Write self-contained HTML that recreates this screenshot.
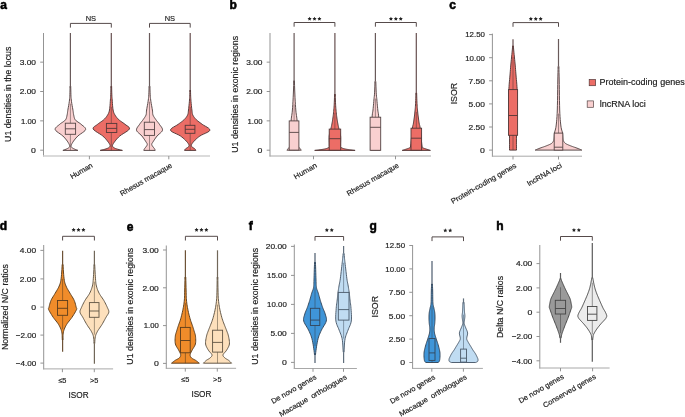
<!DOCTYPE html><html><head><meta charset="utf-8"><style>html,body{margin:0;padding:0;background:#fff;width:685px;height:417px;overflow:hidden}svg{display:block;will-change:transform}text{font-family:"Liberation Sans", sans-serif;stroke:#222;stroke-width:0.18px}</style></head><body>
<svg width="685" height="417" viewBox="0 0 685 417">
<rect width="685" height="417" fill="#fff"/>
<text x="0.3" y="9.1" font-size="12" font-weight="bold" fill="#000" style="stroke:#000;stroke-width:0.55px">a</text>
<line x1="43.5" y1="33" x2="43.5" y2="156.5" stroke="#8e8e8e" stroke-width="0.95"/>
<line x1="43.05" y1="156" x2="210" y2="156" stroke="#cfcfcf" stroke-width="1.4"/>
<line x1="40.2" y1="150.2" x2="43.5" y2="150.2" stroke="#8e8e8e" stroke-width="0.95"/>
<text x="36.00" y="153.00" text-anchor="end" font-size="7.8" fill="#222222" textLength="4.87" lengthAdjust="spacingAndGlyphs">0</text>
<line x1="40.2" y1="120.85" x2="43.5" y2="120.85" stroke="#8e8e8e" stroke-width="0.95"/>
<text x="36.00" y="123.65" text-anchor="end" font-size="7.8" fill="#222222" textLength="15.04" lengthAdjust="spacingAndGlyphs">1.00</text>
<line x1="40.2" y1="91.5" x2="43.5" y2="91.5" stroke="#8e8e8e" stroke-width="0.95"/>
<text x="36.00" y="94.30" text-anchor="end" font-size="7.8" fill="#222222" textLength="16.34" lengthAdjust="spacingAndGlyphs">2.00</text>
<line x1="40.2" y1="62.15" x2="43.5" y2="62.15" stroke="#8e8e8e" stroke-width="0.95"/>
<text x="36.00" y="64.95" text-anchor="end" font-size="7.8" fill="#222222" textLength="16.34" lengthAdjust="spacingAndGlyphs">3.00</text>
<line x1="89.4" y1="156" x2="89.4" y2="159.3" stroke="#8e8e8e" stroke-width="0.95"/>
<line x1="168.8" y1="156" x2="168.8" y2="159.3" stroke="#8e8e8e" stroke-width="0.95"/>
<text transform="translate(11.4,94.3) rotate(-90)" text-anchor="middle" font-size="8.8" fill="#222222">U1 densities in the locus</text>
<line x1="70.40" y1="33.00" x2="70.40" y2="88.12" stroke="#695a5a" stroke-width="1.2"/>
<path d="M70.71,86.12 L70.80,90.00 L70.87,92.82 L70.92,94.80 L70.98,96.23 L71.04,97.38 L71.15,98.54 L71.30,100.00 L71.53,101.78 L71.81,103.65 L72.14,105.54 L72.46,107.35 L72.76,109.00 L73.00,110.40 L73.16,111.50 L73.27,112.35 L73.35,113.04 L73.43,113.65 L73.54,114.28 L73.70,115.00 L73.88,115.82 L74.04,116.66 L74.24,117.52 L74.50,118.37 L74.87,119.20 L75.40,120.00 L76.13,120.75 L77.05,121.45 L78.08,122.13 L79.14,122.82 L80.17,123.53 L81.10,124.30 L82.06,125.11 L83.14,125.95 L84.19,126.82 L85.05,127.71 L85.57,128.64 L85.60,129.60 L84.99,130.61 L83.83,131.67 L82.34,132.76 L80.71,133.86 L79.16,134.95 L77.90,136.00 L76.89,137.03 L75.95,138.06 L75.09,139.07 L74.31,140.06 L73.61,141.01 L73.00,141.90 L72.46,142.75 L71.99,143.56 L71.61,144.33 L71.32,145.05 L71.14,145.71 L71.10,146.30 L71.20,146.80 L71.44,147.21 L71.79,147.56 L72.24,147.87 L72.75,148.18 L73.30,148.50 L73.98,148.86 L74.83,149.23 L75.74,149.59 L76.62,149.92 L77.37,150.20 L77.90,150.40 L62.90,150.40 L63.43,150.20 L64.18,149.92 L65.06,149.59 L65.97,149.23 L66.82,148.86 L67.50,148.50 L68.05,148.18 L68.56,147.87 L69.01,147.56 L69.36,147.21 L69.60,146.80 L69.70,146.30 L69.66,145.71 L69.48,145.05 L69.19,144.33 L68.81,143.56 L68.34,142.75 L67.80,141.90 L67.19,141.01 L66.49,140.06 L65.71,139.07 L64.85,138.06 L63.91,137.03 L62.90,136.00 L61.64,134.95 L60.09,133.86 L58.46,132.76 L56.97,131.67 L55.81,130.61 L55.20,129.60 L55.23,128.64 L55.75,127.71 L56.61,126.82 L57.66,125.95 L58.74,125.11 L59.70,124.30 L60.63,123.53 L61.66,122.82 L62.73,122.13 L63.75,121.45 L64.67,120.75 L65.40,120.00 L65.93,119.20 L66.30,118.37 L66.56,117.52 L66.76,116.66 L66.92,115.82 L67.10,115.00 L67.26,114.28 L67.37,113.65 L67.45,113.04 L67.53,112.35 L67.64,111.50 L67.80,110.40 L68.04,109.00 L68.34,107.35 L68.66,105.54 L68.99,103.65 L69.27,101.78 L69.50,100.00 L69.65,98.54 L69.76,97.38 L69.83,96.23 L69.88,94.80 L69.93,92.82 L70.00,90.00 L70.09,86.12Z" fill="#f9d0d0" stroke="none"/>
<path d="M70.71,86.12 L70.80,90.00 L70.87,92.82 L70.92,94.80 L70.98,96.23 L71.04,97.38 L71.15,98.54 L71.30,100.00 L71.53,101.78 L71.81,103.65 L72.14,105.54 L72.46,107.35 L72.76,109.00 L73.00,110.40 L73.16,111.50 L73.27,112.35 L73.35,113.04 L73.43,113.65 L73.54,114.28 L73.70,115.00 L73.88,115.82 L74.04,116.66 L74.24,117.52 L74.50,118.37 L74.87,119.20 L75.40,120.00 L76.13,120.75 L77.05,121.45 L78.08,122.13 L79.14,122.82 L80.17,123.53 L81.10,124.30 L82.06,125.11 L83.14,125.95 L84.19,126.82 L85.05,127.71 L85.57,128.64 L85.60,129.60 L84.99,130.61 L83.83,131.67 L82.34,132.76 L80.71,133.86 L79.16,134.95 L77.90,136.00 L76.89,137.03 L75.95,138.06 L75.09,139.07 L74.31,140.06 L73.61,141.01 L73.00,141.90 L72.46,142.75 L71.99,143.56 L71.61,144.33 L71.32,145.05 L71.14,145.71 L71.10,146.30 L71.20,146.80 L71.44,147.21 L71.79,147.56 L72.24,147.87 L72.75,148.18 L73.30,148.50 L73.98,148.86 L74.83,149.23 L75.74,149.59 L76.62,149.92 L77.37,150.20 L77.90,150.40 L62.90,150.40 L63.43,150.20 L64.18,149.92 L65.06,149.59 L65.97,149.23 L66.82,148.86 L67.50,148.50 L68.05,148.18 L68.56,147.87 L69.01,147.56 L69.36,147.21 L69.60,146.80 L69.70,146.30 L69.66,145.71 L69.48,145.05 L69.19,144.33 L68.81,143.56 L68.34,142.75 L67.80,141.90 L67.19,141.01 L66.49,140.06 L65.71,139.07 L64.85,138.06 L63.91,137.03 L62.90,136.00 L61.64,134.95 L60.09,133.86 L58.46,132.76 L56.97,131.67 L55.81,130.61 L55.20,129.60 L55.23,128.64 L55.75,127.71 L56.61,126.82 L57.66,125.95 L58.74,125.11 L59.70,124.30 L60.63,123.53 L61.66,122.82 L62.73,122.13 L63.75,121.45 L64.67,120.75 L65.40,120.00 L65.93,119.20 L66.30,118.37 L66.56,117.52 L66.76,116.66 L66.92,115.82 L67.10,115.00 L67.26,114.28 L67.37,113.65 L67.45,113.04 L67.53,112.35 L67.64,111.50 L67.80,110.40 L68.04,109.00 L68.34,107.35 L68.66,105.54 L68.99,103.65 L69.27,101.78 L69.50,100.00 L69.65,98.54 L69.76,97.38 L69.83,96.23 L69.88,94.80 L69.93,92.82 L70.00,90.00 L70.09,86.12" fill="none" stroke="#544444" stroke-width="0.95" stroke-linejoin="round" stroke-linecap="butt"/>
<line x1="70.40" y1="103.65" x2="70.40" y2="150.40" stroke="#544444" stroke-width="0.55"/>
<rect x="65.30" y="123.20" width="10.30" height="11.10" fill="#f9d0d0" stroke="#544444" stroke-width="0.9"/>
<line x1="65.30" y1="128.80" x2="75.60" y2="128.80" stroke="#544444" stroke-width="0.9"/>
<line x1="111.30" y1="33.00" x2="111.30" y2="88.12" stroke="#675050" stroke-width="1.2"/>
<path d="M111.61,86.12 L111.70,90.00 L111.78,92.82 L111.85,94.81 L111.92,96.25 L112.00,97.41 L112.09,98.56 L112.20,100.00 L112.32,101.72 L112.43,103.52 L112.56,105.31 L112.71,107.04 L112.89,108.62 L113.10,110.00 L113.34,111.13 L113.59,112.05 L113.87,112.83 L114.19,113.54 L114.56,114.24 L115.00,115.00 L115.50,115.80 L116.04,116.59 L116.63,117.38 L117.29,118.15 L118.01,118.93 L118.80,119.70 L119.72,120.47 L120.76,121.24 L121.86,122.00 L122.98,122.76 L124.04,123.53 L125.00,124.30 L126.00,125.05 L127.12,125.77 L128.19,126.50 L129.04,127.26 L129.50,128.08 L129.40,129.00 L128.56,130.05 L127.08,131.20 L125.21,132.43 L123.20,133.66 L121.31,134.87 L119.80,136.00 L118.63,137.07 L117.59,138.11 L116.67,139.13 L115.86,140.11 L115.14,141.03 L114.50,141.90 L113.92,142.71 L113.40,143.46 L112.98,144.16 L112.67,144.82 L112.51,145.43 L112.50,146.00 L112.67,146.52 L112.99,146.97 L113.44,147.39 L114.03,147.77 L114.72,148.14 L115.50,148.50 L116.50,148.87 L117.77,149.25 L119.14,149.61 L120.47,149.93 L121.60,150.20 L122.40,150.40 L100.20,150.40 L101.00,150.20 L102.13,149.93 L103.46,149.61 L104.83,149.25 L106.10,148.87 L107.10,148.50 L107.88,148.14 L108.57,147.77 L109.16,147.39 L109.61,146.97 L109.93,146.52 L110.10,146.00 L110.09,145.43 L109.93,144.82 L109.62,144.16 L109.20,143.46 L108.68,142.71 L108.10,141.90 L107.46,141.03 L106.74,140.11 L105.92,139.13 L105.01,138.11 L103.97,137.07 L102.80,136.00 L101.29,134.87 L99.40,133.66 L97.39,132.43 L95.52,131.20 L94.04,130.05 L93.20,129.00 L93.10,128.08 L93.56,127.26 L94.41,126.50 L95.48,125.77 L96.60,125.05 L97.60,124.30 L98.56,123.53 L99.62,122.76 L100.74,122.00 L101.84,121.24 L102.88,120.47 L103.80,119.70 L104.59,118.93 L105.31,118.15 L105.97,117.38 L106.56,116.59 L107.10,115.80 L107.60,115.00 L108.04,114.24 L108.41,113.54 L108.73,112.83 L109.01,112.05 L109.26,111.13 L109.50,110.00 L109.71,108.62 L109.89,107.04 L110.04,105.31 L110.17,103.52 L110.28,101.72 L110.40,100.00 L110.51,98.56 L110.60,97.41 L110.67,96.25 L110.75,94.81 L110.82,92.82 L110.90,90.00 L110.99,86.12Z" fill="#ec6d66" stroke="none"/>
<path d="M111.61,86.12 L111.70,90.00 L111.78,92.82 L111.85,94.81 L111.92,96.25 L112.00,97.41 L112.09,98.56 L112.20,100.00 L112.32,101.72 L112.43,103.52 L112.56,105.31 L112.71,107.04 L112.89,108.62 L113.10,110.00 L113.34,111.13 L113.59,112.05 L113.87,112.83 L114.19,113.54 L114.56,114.24 L115.00,115.00 L115.50,115.80 L116.04,116.59 L116.63,117.38 L117.29,118.15 L118.01,118.93 L118.80,119.70 L119.72,120.47 L120.76,121.24 L121.86,122.00 L122.98,122.76 L124.04,123.53 L125.00,124.30 L126.00,125.05 L127.12,125.77 L128.19,126.50 L129.04,127.26 L129.50,128.08 L129.40,129.00 L128.56,130.05 L127.08,131.20 L125.21,132.43 L123.20,133.66 L121.31,134.87 L119.80,136.00 L118.63,137.07 L117.59,138.11 L116.67,139.13 L115.86,140.11 L115.14,141.03 L114.50,141.90 L113.92,142.71 L113.40,143.46 L112.98,144.16 L112.67,144.82 L112.51,145.43 L112.50,146.00 L112.67,146.52 L112.99,146.97 L113.44,147.39 L114.03,147.77 L114.72,148.14 L115.50,148.50 L116.50,148.87 L117.77,149.25 L119.14,149.61 L120.47,149.93 L121.60,150.20 L122.40,150.40 L100.20,150.40 L101.00,150.20 L102.13,149.93 L103.46,149.61 L104.83,149.25 L106.10,148.87 L107.10,148.50 L107.88,148.14 L108.57,147.77 L109.16,147.39 L109.61,146.97 L109.93,146.52 L110.10,146.00 L110.09,145.43 L109.93,144.82 L109.62,144.16 L109.20,143.46 L108.68,142.71 L108.10,141.90 L107.46,141.03 L106.74,140.11 L105.92,139.13 L105.01,138.11 L103.97,137.07 L102.80,136.00 L101.29,134.87 L99.40,133.66 L97.39,132.43 L95.52,131.20 L94.04,130.05 L93.20,129.00 L93.10,128.08 L93.56,127.26 L94.41,126.50 L95.48,125.77 L96.60,125.05 L97.60,124.30 L98.56,123.53 L99.62,122.76 L100.74,122.00 L101.84,121.24 L102.88,120.47 L103.80,119.70 L104.59,118.93 L105.31,118.15 L105.97,117.38 L106.56,116.59 L107.10,115.80 L107.60,115.00 L108.04,114.24 L108.41,113.54 L108.73,112.83 L109.01,112.05 L109.26,111.13 L109.50,110.00 L109.71,108.62 L109.89,107.04 L110.04,105.31 L110.17,103.52 L110.28,101.72 L110.40,100.00 L110.51,98.56 L110.60,97.41 L110.67,96.25 L110.75,94.81 L110.82,92.82 L110.90,90.00 L110.99,86.12" fill="none" stroke="#523838" stroke-width="0.95" stroke-linejoin="round" stroke-linecap="butt"/>
<line x1="111.30" y1="107.04" x2="111.30" y2="150.40" stroke="#523838" stroke-width="0.55"/>
<rect x="106.40" y="123.40" width="10.40" height="9.10" fill="#ec6d66" stroke="#523838" stroke-width="0.9"/>
<line x1="106.40" y1="128.40" x2="116.80" y2="128.40" stroke="#523838" stroke-width="0.9"/>
<line x1="149.50" y1="33.00" x2="149.50" y2="88.12" stroke="#695a5a" stroke-width="1.2"/>
<path d="M149.89,86.12 L150.00,90.00 L150.10,92.82 L150.19,94.81 L150.28,96.25 L150.39,97.41 L150.52,98.56 L150.70,100.00 L150.94,101.72 L151.23,103.52 L151.56,105.31 L151.88,107.04 L152.17,108.62 L152.40,110.00 L152.54,111.13 L152.60,112.05 L152.62,112.83 L152.67,113.54 L152.78,114.24 L153.00,115.00 L153.34,115.80 L153.77,116.59 L154.27,117.38 L154.80,118.15 L155.36,118.93 L155.90,119.70 L156.45,120.46 L157.04,121.19 L157.64,121.93 L158.24,122.67 L158.83,123.46 L159.40,124.30 L160.04,125.21 L160.78,126.17 L161.51,127.17 L162.11,128.19 L162.48,129.21 L162.50,130.20 L162.08,131.17 L161.28,132.14 L160.25,133.10 L159.12,134.06 L158.02,135.03 L157.10,136.00 L156.31,137.01 L155.53,138.07 L154.79,139.13 L154.10,140.15 L153.50,141.09 L153.00,141.90 L152.59,142.54 L152.24,143.04 L151.97,143.46 L151.80,143.86 L151.73,144.28 L151.80,144.80 L152.06,145.44 L152.52,146.17 L153.09,146.94 L153.68,147.68 L154.21,148.35 L154.60,148.90 L154.83,149.32 L154.99,149.65 L155.07,149.91 L155.13,150.11 L155.16,150.27 L155.20,150.40 L143.80,150.40 L143.84,150.27 L143.87,150.11 L143.93,149.91 L144.01,149.65 L144.17,149.32 L144.40,148.90 L144.79,148.35 L145.32,147.68 L145.91,146.94 L146.48,146.17 L146.94,145.44 L147.20,144.80 L147.27,144.28 L147.20,143.86 L147.03,143.46 L146.76,143.04 L146.41,142.54 L146.00,141.90 L145.50,141.09 L144.90,140.15 L144.21,139.13 L143.47,138.07 L142.69,137.01 L141.90,136.00 L140.98,135.03 L139.88,134.06 L138.75,133.10 L137.72,132.14 L136.92,131.17 L136.50,130.20 L136.52,129.21 L136.89,128.19 L137.49,127.17 L138.22,126.17 L138.96,125.21 L139.60,124.30 L140.17,123.46 L140.76,122.67 L141.36,121.93 L141.96,121.19 L142.55,120.46 L143.10,119.70 L143.64,118.93 L144.20,118.15 L144.73,117.38 L145.23,116.59 L145.66,115.80 L146.00,115.00 L146.22,114.24 L146.33,113.54 L146.38,112.83 L146.40,112.05 L146.46,111.13 L146.60,110.00 L146.83,108.62 L147.12,107.04 L147.44,105.31 L147.77,103.52 L148.06,101.72 L148.30,100.00 L148.48,98.56 L148.61,97.41 L148.72,96.25 L148.81,94.81 L148.90,92.82 L149.00,90.00 L149.11,86.12Z" fill="#f9d0d0" stroke="none"/>
<path d="M149.89,86.12 L150.00,90.00 L150.10,92.82 L150.19,94.81 L150.28,96.25 L150.39,97.41 L150.52,98.56 L150.70,100.00 L150.94,101.72 L151.23,103.52 L151.56,105.31 L151.88,107.04 L152.17,108.62 L152.40,110.00 L152.54,111.13 L152.60,112.05 L152.62,112.83 L152.67,113.54 L152.78,114.24 L153.00,115.00 L153.34,115.80 L153.77,116.59 L154.27,117.38 L154.80,118.15 L155.36,118.93 L155.90,119.70 L156.45,120.46 L157.04,121.19 L157.64,121.93 L158.24,122.67 L158.83,123.46 L159.40,124.30 L160.04,125.21 L160.78,126.17 L161.51,127.17 L162.11,128.19 L162.48,129.21 L162.50,130.20 L162.08,131.17 L161.28,132.14 L160.25,133.10 L159.12,134.06 L158.02,135.03 L157.10,136.00 L156.31,137.01 L155.53,138.07 L154.79,139.13 L154.10,140.15 L153.50,141.09 L153.00,141.90 L152.59,142.54 L152.24,143.04 L151.97,143.46 L151.80,143.86 L151.73,144.28 L151.80,144.80 L152.06,145.44 L152.52,146.17 L153.09,146.94 L153.68,147.68 L154.21,148.35 L154.60,148.90 L154.83,149.32 L154.99,149.65 L155.07,149.91 L155.13,150.11 L155.16,150.27 L155.20,150.40 L143.80,150.40 L143.84,150.27 L143.87,150.11 L143.93,149.91 L144.01,149.65 L144.17,149.32 L144.40,148.90 L144.79,148.35 L145.32,147.68 L145.91,146.94 L146.48,146.17 L146.94,145.44 L147.20,144.80 L147.27,144.28 L147.20,143.86 L147.03,143.46 L146.76,143.04 L146.41,142.54 L146.00,141.90 L145.50,141.09 L144.90,140.15 L144.21,139.13 L143.47,138.07 L142.69,137.01 L141.90,136.00 L140.98,135.03 L139.88,134.06 L138.75,133.10 L137.72,132.14 L136.92,131.17 L136.50,130.20 L136.52,129.21 L136.89,128.19 L137.49,127.17 L138.22,126.17 L138.96,125.21 L139.60,124.30 L140.17,123.46 L140.76,122.67 L141.36,121.93 L141.96,121.19 L142.55,120.46 L143.10,119.70 L143.64,118.93 L144.20,118.15 L144.73,117.38 L145.23,116.59 L145.66,115.80 L146.00,115.00 L146.22,114.24 L146.33,113.54 L146.38,112.83 L146.40,112.05 L146.46,111.13 L146.60,110.00 L146.83,108.62 L147.12,107.04 L147.44,105.31 L147.77,103.52 L148.06,101.72 L148.30,100.00 L148.48,98.56 L148.61,97.41 L148.72,96.25 L148.81,94.81 L148.90,92.82 L149.00,90.00 L149.11,86.12" fill="none" stroke="#544444" stroke-width="0.95" stroke-linejoin="round" stroke-linecap="butt"/>
<line x1="149.50" y1="101.72" x2="149.50" y2="150.40" stroke="#544444" stroke-width="0.55"/>
<rect x="144.30" y="122.20" width="10.20" height="13.20" fill="#f9d0d0" stroke="#544444" stroke-width="0.9"/>
<line x1="144.30" y1="129.60" x2="154.50" y2="129.60" stroke="#544444" stroke-width="0.9"/>
<line x1="190.20" y1="33.00" x2="190.20" y2="92.00" stroke="#675050" stroke-width="1.2"/>
<path d="M190.50,90.00 L190.56,92.82 L190.61,94.81 L190.66,96.25 L190.72,97.41 L190.80,98.56 L190.90,100.00 L191.03,101.72 L191.19,103.52 L191.37,105.31 L191.55,107.04 L191.73,108.62 L191.90,110.00 L192.03,111.13 L192.11,112.05 L192.19,112.83 L192.31,113.54 L192.50,114.24 L192.80,115.00 L193.21,115.80 L193.69,116.59 L194.24,117.38 L194.86,118.15 L195.55,118.93 L196.30,119.70 L197.12,120.46 L198.02,121.19 L198.99,121.93 L200.01,122.67 L201.08,123.46 L202.20,124.30 L203.58,125.21 L205.29,126.17 L207.04,127.17 L208.58,128.19 L209.62,129.21 L209.90,130.20 L209.22,131.17 L207.75,132.14 L205.79,133.10 L203.63,134.06 L201.57,135.03 L199.90,136.00 L198.56,137.00 L197.31,138.03 L196.15,139.06 L195.10,140.06 L194.18,141.02 L193.40,141.90 L192.74,142.70 L192.20,143.44 L191.77,144.14 L191.49,144.79 L191.36,145.41 L191.40,146.00 L191.69,146.57 L192.25,147.11 L192.96,147.61 L193.71,148.08 L194.40,148.51 L194.90,148.90 L195.22,149.25 L195.46,149.56 L195.62,149.83 L195.73,150.06 L195.82,150.25 L195.90,150.40 L184.50,150.40 L184.58,150.25 L184.67,150.06 L184.78,149.83 L184.94,149.56 L185.18,149.25 L185.50,148.90 L186.00,148.51 L186.69,148.08 L187.44,147.61 L188.15,147.11 L188.71,146.57 L189.00,146.00 L189.04,145.41 L188.91,144.79 L188.62,144.14 L188.20,143.44 L187.66,142.70 L187.00,141.90 L186.22,141.02 L185.30,140.06 L184.25,139.06 L183.09,138.03 L181.84,137.00 L180.50,136.00 L178.83,135.03 L176.77,134.06 L174.61,133.10 L172.65,132.14 L171.18,131.17 L170.50,130.20 L170.78,129.21 L171.82,128.19 L173.36,127.17 L175.11,126.17 L176.82,125.21 L178.20,124.30 L179.32,123.46 L180.39,122.67 L181.41,121.93 L182.38,121.19 L183.28,120.46 L184.10,119.70 L184.85,118.93 L185.54,118.15 L186.16,117.38 L186.71,116.59 L187.19,115.80 L187.60,115.00 L187.90,114.24 L188.09,113.54 L188.21,112.83 L188.29,112.05 L188.37,111.13 L188.50,110.00 L188.67,108.62 L188.85,107.04 L189.03,105.31 L189.21,103.52 L189.37,101.72 L189.50,100.00 L189.60,98.56 L189.68,97.41 L189.74,96.25 L189.79,94.81 L189.84,92.82 L189.90,90.00Z" fill="#ec6d66" stroke="none"/>
<path d="M190.50,90.00 L190.56,92.82 L190.61,94.81 L190.66,96.25 L190.72,97.41 L190.80,98.56 L190.90,100.00 L191.03,101.72 L191.19,103.52 L191.37,105.31 L191.55,107.04 L191.73,108.62 L191.90,110.00 L192.03,111.13 L192.11,112.05 L192.19,112.83 L192.31,113.54 L192.50,114.24 L192.80,115.00 L193.21,115.80 L193.69,116.59 L194.24,117.38 L194.86,118.15 L195.55,118.93 L196.30,119.70 L197.12,120.46 L198.02,121.19 L198.99,121.93 L200.01,122.67 L201.08,123.46 L202.20,124.30 L203.58,125.21 L205.29,126.17 L207.04,127.17 L208.58,128.19 L209.62,129.21 L209.90,130.20 L209.22,131.17 L207.75,132.14 L205.79,133.10 L203.63,134.06 L201.57,135.03 L199.90,136.00 L198.56,137.00 L197.31,138.03 L196.15,139.06 L195.10,140.06 L194.18,141.02 L193.40,141.90 L192.74,142.70 L192.20,143.44 L191.77,144.14 L191.49,144.79 L191.36,145.41 L191.40,146.00 L191.69,146.57 L192.25,147.11 L192.96,147.61 L193.71,148.08 L194.40,148.51 L194.90,148.90 L195.22,149.25 L195.46,149.56 L195.62,149.83 L195.73,150.06 L195.82,150.25 L195.90,150.40 L184.50,150.40 L184.58,150.25 L184.67,150.06 L184.78,149.83 L184.94,149.56 L185.18,149.25 L185.50,148.90 L186.00,148.51 L186.69,148.08 L187.44,147.61 L188.15,147.11 L188.71,146.57 L189.00,146.00 L189.04,145.41 L188.91,144.79 L188.62,144.14 L188.20,143.44 L187.66,142.70 L187.00,141.90 L186.22,141.02 L185.30,140.06 L184.25,139.06 L183.09,138.03 L181.84,137.00 L180.50,136.00 L178.83,135.03 L176.77,134.06 L174.61,133.10 L172.65,132.14 L171.18,131.17 L170.50,130.20 L170.78,129.21 L171.82,128.19 L173.36,127.17 L175.11,126.17 L176.82,125.21 L178.20,124.30 L179.32,123.46 L180.39,122.67 L181.41,121.93 L182.38,121.19 L183.28,120.46 L184.10,119.70 L184.85,118.93 L185.54,118.15 L186.16,117.38 L186.71,116.59 L187.19,115.80 L187.60,115.00 L187.90,114.24 L188.09,113.54 L188.21,112.83 L188.29,112.05 L188.37,111.13 L188.50,110.00 L188.67,108.62 L188.85,107.04 L189.03,105.31 L189.21,103.52 L189.37,101.72 L189.50,100.00 L189.60,98.56 L189.68,97.41 L189.74,96.25 L189.79,94.81 L189.84,92.82 L189.90,90.00" fill="none" stroke="#523838" stroke-width="0.95" stroke-linejoin="round" stroke-linecap="butt"/>
<line x1="190.20" y1="107.04" x2="190.20" y2="150.40" stroke="#523838" stroke-width="0.55"/>
<rect x="185.20" y="125.30" width="9.70" height="8.00" fill="#ec6d66" stroke="#523838" stroke-width="0.9"/>
<line x1="185.20" y1="129.30" x2="194.90" y2="129.30" stroke="#523838" stroke-width="0.9"/>
<path d="M70.4,27.599999999999998 V23.4 H111.3 V27.599999999999998" fill="none" stroke="#554a4a" stroke-width="1.0"/>
<text x="90.85" y="20.9" text-anchor="middle" font-size="8.1" fill="#222222" textLength="10.4" lengthAdjust="spacingAndGlyphs">NS</text>
<path d="M149.5,27.599999999999998 V23.4 H190.2 V27.599999999999998" fill="none" stroke="#554a4a" stroke-width="1.0"/>
<text x="169.85" y="20.9" text-anchor="middle" font-size="8.1" fill="#222222" textLength="10.4" lengthAdjust="spacingAndGlyphs">NS</text>
<text transform="translate(93.30,166.80) rotate(-30)" text-anchor="end" font-size="7.3" fill="#222222" textLength="24.71" lengthAdjust="spacingAndGlyphs">Human</text>
<text transform="translate(172.70,166.80) rotate(-30)" text-anchor="end" font-size="7.3" fill="#222222" textLength="58.79" lengthAdjust="spacingAndGlyphs">Rhesus macaque</text>
<text x="229.5" y="9.2" font-size="12" font-weight="bold" fill="#000" style="stroke:#000;stroke-width:0.55px">b</text>
<line x1="270.0" y1="33" x2="270.0" y2="156.5" stroke="#8e8e8e" stroke-width="0.95"/>
<line x1="269.55" y1="156" x2="431" y2="156" stroke="#a8a8a8" stroke-width="1.0"/>
<line x1="266.7" y1="150.2" x2="270.0" y2="150.2" stroke="#8e8e8e" stroke-width="0.95"/>
<text x="262.50" y="153.00" text-anchor="end" font-size="7.8" fill="#222222" textLength="4.87" lengthAdjust="spacingAndGlyphs">0</text>
<line x1="266.7" y1="120.85" x2="270.0" y2="120.85" stroke="#8e8e8e" stroke-width="0.95"/>
<text x="262.50" y="123.65" text-anchor="end" font-size="7.8" fill="#222222" textLength="15.04" lengthAdjust="spacingAndGlyphs">1.00</text>
<line x1="266.7" y1="91.5" x2="270.0" y2="91.5" stroke="#8e8e8e" stroke-width="0.95"/>
<text x="262.50" y="94.30" text-anchor="end" font-size="7.8" fill="#222222" textLength="16.34" lengthAdjust="spacingAndGlyphs">2.00</text>
<line x1="266.7" y1="62.15" x2="270.0" y2="62.15" stroke="#8e8e8e" stroke-width="0.95"/>
<text x="262.50" y="64.95" text-anchor="end" font-size="7.8" fill="#222222" textLength="16.34" lengthAdjust="spacingAndGlyphs">3.00</text>
<line x1="313.5" y1="156" x2="313.5" y2="159.3" stroke="#8e8e8e" stroke-width="0.95"/>
<line x1="395.5" y1="156" x2="395.5" y2="159.3" stroke="#8e8e8e" stroke-width="0.95"/>
<text transform="translate(237.8,94.3) rotate(-90)" text-anchor="middle" font-size="8.8" fill="#222222">U1 densities in exonic regions</text>
<line x1="294.10" y1="33.00" x2="294.10" y2="82.63" stroke="#695a5a" stroke-width="1.2"/>
<path d="M294.42,80.63 L294.55,85.54 L294.70,90.00 L294.86,94.02 L295.03,97.74 L295.21,101.19 L295.40,104.37 L295.60,107.30 L295.80,110.00 L296.01,112.26 L296.24,114.04 L296.48,115.56 L296.70,117.07 L296.92,118.81 L297.10,121.00 L297.25,123.85 L297.39,127.22 L297.50,130.81 L297.60,134.33 L297.70,137.49 L297.80,140.00 L297.88,141.80 L297.94,143.10 L298.00,144.04 L298.07,144.76 L298.16,145.36 L298.30,146.00 L298.49,146.60 L298.73,147.06 L298.99,147.41 L299.26,147.70 L299.54,147.98 L299.80,148.30 L300.07,148.66 L300.36,149.03 L300.64,149.39 L300.91,149.72 L301.14,150.00 L301.30,150.20 L286.90,150.20 L287.06,150.00 L287.29,149.72 L287.56,149.39 L287.84,149.03 L288.13,148.66 L288.40,148.30 L288.66,147.98 L288.94,147.70 L289.21,147.41 L289.47,147.06 L289.71,146.60 L289.90,146.00 L290.04,145.36 L290.13,144.76 L290.20,144.04 L290.26,143.10 L290.32,141.80 L290.40,140.00 L290.50,137.49 L290.60,134.33 L290.70,130.81 L290.81,127.22 L290.95,123.85 L291.10,121.00 L291.28,118.81 L291.50,117.07 L291.73,115.56 L291.96,114.04 L292.19,112.26 L292.40,110.00 L292.60,107.30 L292.80,104.37 L292.99,101.19 L293.17,97.74 L293.34,94.02 L293.50,90.00 L293.65,85.54 L293.78,80.63Z" fill="#f9d0d0" stroke="none"/>
<path d="M294.42,80.63 L294.55,85.54 L294.70,90.00 L294.86,94.02 L295.03,97.74 L295.21,101.19 L295.40,104.37 L295.60,107.30 L295.80,110.00 L296.01,112.26 L296.24,114.04 L296.48,115.56 L296.70,117.07 L296.92,118.81 L297.10,121.00 L297.25,123.85 L297.39,127.22 L297.50,130.81 L297.60,134.33 L297.70,137.49 L297.80,140.00 L297.88,141.80 L297.94,143.10 L298.00,144.04 L298.07,144.76 L298.16,145.36 L298.30,146.00 L298.49,146.60 L298.73,147.06 L298.99,147.41 L299.26,147.70 L299.54,147.98 L299.80,148.30 L300.07,148.66 L300.36,149.03 L300.64,149.39 L300.91,149.72 L301.14,150.00 L301.30,150.20 L286.90,150.20 L287.06,150.00 L287.29,149.72 L287.56,149.39 L287.84,149.03 L288.13,148.66 L288.40,148.30 L288.66,147.98 L288.94,147.70 L289.21,147.41 L289.47,147.06 L289.71,146.60 L289.90,146.00 L290.04,145.36 L290.13,144.76 L290.20,144.04 L290.26,143.10 L290.32,141.80 L290.40,140.00 L290.50,137.49 L290.60,134.33 L290.70,130.81 L290.81,127.22 L290.95,123.85 L291.10,121.00 L291.28,118.81 L291.50,117.07 L291.73,115.56 L291.96,114.04 L292.19,112.26 L292.40,110.00 L292.60,107.30 L292.80,104.37 L292.99,101.19 L293.17,97.74 L293.34,94.02 L293.50,90.00 L293.65,85.54 L293.78,80.63" fill="none" stroke="#544444" stroke-width="0.95" stroke-linejoin="round" stroke-linecap="butt"/>
<line x1="294.10" y1="104.37" x2="294.10" y2="150.20" stroke="#544444" stroke-width="0.55"/>
<rect x="289.20" y="120.90" width="9.70" height="29.20" fill="#f9d0d0" stroke="#544444" stroke-width="0.9"/>
<line x1="289.20" y1="132.40" x2="298.90" y2="132.40" stroke="#544444" stroke-width="0.9"/>
<line x1="334.90" y1="33.00" x2="334.90" y2="96.07" stroke="#675050" stroke-width="1.2"/>
<path d="M335.23,94.07 L335.31,97.25 L335.40,100.00 L335.49,102.27 L335.58,104.15 L335.67,105.75 L335.77,107.19 L335.88,108.56 L336.00,110.00 L336.13,111.47 L336.27,112.89 L336.42,114.25 L336.58,115.56 L336.74,116.81 L336.90,118.00 L337.06,119.13 L337.22,120.19 L337.39,121.19 L337.56,122.15 L337.73,123.08 L337.90,124.00 L338.07,124.87 L338.24,125.67 L338.41,126.44 L338.59,127.22 L338.79,128.06 L339.00,129.00 L339.26,130.03 L339.56,131.11 L339.87,132.25 L340.17,133.44 L340.42,134.69 L340.60,136.00 L340.69,137.46 L340.71,139.10 L340.68,140.80 L340.64,142.43 L340.60,143.87 L340.60,145.00 L340.60,145.77 L340.59,146.27 L340.58,146.58 L340.61,146.78 L340.71,146.96 L340.90,147.20 L341.18,147.48 L341.54,147.74 L341.96,147.97 L342.44,148.19 L342.99,148.40 L343.60,148.60 L344.28,148.79 L345.04,148.97 L345.86,149.14 L346.74,149.30 L347.65,149.45 L348.60,149.60 L349.67,149.75 L350.90,149.91 L352.16,150.06 L353.36,150.20 L354.38,150.32 L355.10,150.40 L314.70,150.40 L315.42,150.32 L316.44,150.20 L317.64,150.06 L318.90,149.91 L320.13,149.75 L321.20,149.60 L322.15,149.45 L323.06,149.30 L323.94,149.14 L324.76,148.97 L325.52,148.79 L326.20,148.60 L326.81,148.40 L327.36,148.19 L327.84,147.97 L328.26,147.74 L328.62,147.48 L328.90,147.20 L329.09,146.96 L329.19,146.78 L329.22,146.58 L329.21,146.27 L329.20,145.77 L329.20,145.00 L329.20,143.87 L329.16,142.43 L329.12,140.80 L329.09,139.10 L329.11,137.46 L329.20,136.00 L329.38,134.69 L329.63,133.44 L329.93,132.25 L330.24,131.11 L330.54,130.03 L330.80,129.00 L331.01,128.06 L331.21,127.22 L331.39,126.44 L331.56,125.67 L331.73,124.87 L331.90,124.00 L332.07,123.08 L332.24,122.15 L332.41,121.19 L332.58,120.19 L332.74,119.13 L332.90,118.00 L333.06,116.81 L333.22,115.56 L333.38,114.25 L333.53,112.89 L333.67,111.47 L333.80,110.00 L333.92,108.56 L334.03,107.19 L334.13,105.75 L334.22,104.15 L334.31,102.27 L334.40,100.00 L334.49,97.25 L334.57,94.07Z" fill="#ec6d66" stroke="none"/>
<path d="M335.23,94.07 L335.31,97.25 L335.40,100.00 L335.49,102.27 L335.58,104.15 L335.67,105.75 L335.77,107.19 L335.88,108.56 L336.00,110.00 L336.13,111.47 L336.27,112.89 L336.42,114.25 L336.58,115.56 L336.74,116.81 L336.90,118.00 L337.06,119.13 L337.22,120.19 L337.39,121.19 L337.56,122.15 L337.73,123.08 L337.90,124.00 L338.07,124.87 L338.24,125.67 L338.41,126.44 L338.59,127.22 L338.79,128.06 L339.00,129.00 L339.26,130.03 L339.56,131.11 L339.87,132.25 L340.17,133.44 L340.42,134.69 L340.60,136.00 L340.69,137.46 L340.71,139.10 L340.68,140.80 L340.64,142.43 L340.60,143.87 L340.60,145.00 L340.60,145.77 L340.59,146.27 L340.58,146.58 L340.61,146.78 L340.71,146.96 L340.90,147.20 L341.18,147.48 L341.54,147.74 L341.96,147.97 L342.44,148.19 L342.99,148.40 L343.60,148.60 L344.28,148.79 L345.04,148.97 L345.86,149.14 L346.74,149.30 L347.65,149.45 L348.60,149.60 L349.67,149.75 L350.90,149.91 L352.16,150.06 L353.36,150.20 L354.38,150.32 L355.10,150.40 L314.70,150.40 L315.42,150.32 L316.44,150.20 L317.64,150.06 L318.90,149.91 L320.13,149.75 L321.20,149.60 L322.15,149.45 L323.06,149.30 L323.94,149.14 L324.76,148.97 L325.52,148.79 L326.20,148.60 L326.81,148.40 L327.36,148.19 L327.84,147.97 L328.26,147.74 L328.62,147.48 L328.90,147.20 L329.09,146.96 L329.19,146.78 L329.22,146.58 L329.21,146.27 L329.20,145.77 L329.20,145.00 L329.20,143.87 L329.16,142.43 L329.12,140.80 L329.09,139.10 L329.11,137.46 L329.20,136.00 L329.38,134.69 L329.63,133.44 L329.93,132.25 L330.24,131.11 L330.54,130.03 L330.80,129.00 L331.01,128.06 L331.21,127.22 L331.39,126.44 L331.56,125.67 L331.73,124.87 L331.90,124.00 L332.07,123.08 L332.24,122.15 L332.41,121.19 L332.58,120.19 L332.74,119.13 L332.90,118.00 L333.06,116.81 L333.22,115.56 L333.38,114.25 L333.53,112.89 L333.67,111.47 L333.80,110.00 L333.92,108.56 L334.03,107.19 L334.13,105.75 L334.22,104.15 L334.31,102.27 L334.40,100.00 L334.49,97.25 L334.57,94.07" fill="none" stroke="#523838" stroke-width="0.95" stroke-linejoin="round" stroke-linecap="butt"/>
<line x1="334.90" y1="112.89" x2="334.90" y2="150.40" stroke="#523838" stroke-width="0.55"/>
<rect x="329.20" y="129.10" width="11.50" height="21.10" fill="#ec6d66" stroke="#523838" stroke-width="0.9"/>
<line x1="329.20" y1="138.70" x2="340.70" y2="138.70" stroke="#523838" stroke-width="0.9"/>
<line x1="375.40" y1="33.00" x2="375.40" y2="83.37" stroke="#695a5a" stroke-width="1.2"/>
<path d="M375.81,81.37 L375.96,86.12 L376.10,90.00 L376.23,92.82 L376.36,94.81 L376.49,96.25 L376.63,97.41 L376.76,98.56 L376.90,100.00 L377.04,101.70 L377.19,103.44 L377.34,105.17 L377.50,106.87 L377.65,108.50 L377.80,110.00 L377.95,111.18 L378.10,112.03 L378.25,112.80 L378.40,113.75 L378.55,115.13 L378.70,117.20 L378.85,120.24 L379.01,124.11 L379.17,128.41 L379.33,132.75 L379.47,136.74 L379.60,140.00 L379.71,142.56 L379.81,144.74 L379.91,146.57 L379.99,148.09 L380.05,149.32 L380.10,150.30 L370.70,150.30 L370.75,149.32 L370.81,148.09 L370.89,146.57 L370.99,144.74 L371.09,142.56 L371.20,140.00 L371.33,136.74 L371.47,132.75 L371.62,128.41 L371.79,124.11 L371.95,120.24 L372.10,117.20 L372.25,115.13 L372.40,113.75 L372.55,112.80 L372.70,112.03 L372.85,111.18 L373.00,110.00 L373.15,108.50 L373.30,106.87 L373.46,105.17 L373.61,103.44 L373.76,101.70 L373.90,100.00 L374.04,98.56 L374.17,97.41 L374.31,96.25 L374.44,94.81 L374.57,92.82 L374.70,90.00 L374.84,86.12 L374.99,81.37Z" fill="#f9d0d0" stroke="none"/>
<path d="M375.81,81.37 L375.96,86.12 L376.10,90.00 L376.23,92.82 L376.36,94.81 L376.49,96.25 L376.63,97.41 L376.76,98.56 L376.90,100.00 L377.04,101.70 L377.19,103.44 L377.34,105.17 L377.50,106.87 L377.65,108.50 L377.80,110.00 L377.95,111.18 L378.10,112.03 L378.25,112.80 L378.40,113.75 L378.55,115.13 L378.70,117.20 L378.85,120.24 L379.01,124.11 L379.17,128.41 L379.33,132.75 L379.47,136.74 L379.60,140.00 L379.71,142.56 L379.81,144.74 L379.91,146.57 L379.99,148.09 L380.05,149.32 L380.10,150.30 L370.70,150.30 L370.75,149.32 L370.81,148.09 L370.89,146.57 L370.99,144.74 L371.09,142.56 L371.20,140.00 L371.33,136.74 L371.47,132.75 L371.62,128.41 L371.79,124.11 L371.95,120.24 L372.10,117.20 L372.25,115.13 L372.40,113.75 L372.55,112.80 L372.70,112.03 L372.85,111.18 L373.00,110.00 L373.15,108.50 L373.30,106.87 L373.46,105.17 L373.61,103.44 L373.76,101.70 L373.90,100.00 L374.04,98.56 L374.17,97.41 L374.31,96.25 L374.44,94.81 L374.57,92.82 L374.70,90.00 L374.84,86.12 L374.99,81.37" fill="none" stroke="#544444" stroke-width="0.95" stroke-linejoin="round" stroke-linecap="butt"/>
<line x1="375.40" y1="98.56" x2="375.40" y2="150.30" stroke="#544444" stroke-width="0.55"/>
<rect x="370.10" y="117.20" width="10.60" height="33.10" fill="#f9d0d0" stroke="#544444" stroke-width="0.9"/>
<line x1="370.10" y1="127.30" x2="380.70" y2="127.30" stroke="#544444" stroke-width="0.9"/>
<line x1="416.30" y1="33.00" x2="416.30" y2="94.85" stroke="#675050" stroke-width="1.2"/>
<path d="M416.64,92.85 L416.70,95.00 L416.76,96.99 L416.82,98.81 L416.88,100.50 L416.95,102.07 L417.02,103.56 L417.10,105.00 L417.19,106.35 L417.28,107.59 L417.38,108.75 L417.49,109.85 L417.59,110.93 L417.70,112.00 L417.81,113.06 L417.92,114.07 L418.03,115.06 L418.15,116.04 L418.27,117.01 L418.40,118.00 L418.54,119.02 L418.69,120.07 L418.84,121.11 L418.99,122.13 L419.15,123.10 L419.30,124.00 L419.44,124.65 L419.57,125.03 L419.69,125.36 L419.83,125.86 L420.00,126.73 L420.20,128.20 L420.46,130.56 L420.76,133.72 L421.09,137.25 L421.43,140.75 L421.74,143.80 L422.00,146.00 L422.20,147.24 L422.34,147.81 L422.46,147.95 L422.59,147.85 L422.76,147.73 L423.00,147.80 L423.30,148.01 L423.63,148.17 L424.01,148.31 L424.43,148.45 L424.93,148.61 L425.50,148.80 L426.23,149.05 L427.14,149.35 L428.11,149.66 L429.04,149.96 L429.84,150.22 L430.40,150.40 L402.20,150.40 L402.76,150.22 L403.56,149.96 L404.49,149.66 L405.46,149.35 L406.37,149.05 L407.10,148.80 L407.67,148.61 L408.17,148.45 L408.59,148.31 L408.97,148.17 L409.30,148.01 L409.60,147.80 L409.84,147.73 L410.01,147.85 L410.14,147.95 L410.26,147.81 L410.40,147.24 L410.60,146.00 L410.86,143.80 L411.17,140.75 L411.51,137.25 L411.84,133.72 L412.14,130.56 L412.40,128.20 L412.60,126.73 L412.77,125.86 L412.91,125.36 L413.03,125.03 L413.16,124.65 L413.30,124.00 L413.45,123.10 L413.61,122.13 L413.76,121.11 L413.91,120.07 L414.06,119.02 L414.20,118.00 L414.33,117.01 L414.45,116.04 L414.57,115.06 L414.68,114.07 L414.79,113.06 L414.90,112.00 L415.01,110.93 L415.11,109.85 L415.22,108.75 L415.32,107.59 L415.41,106.35 L415.50,105.00 L415.58,103.56 L415.65,102.07 L415.72,100.50 L415.78,98.81 L415.84,96.99 L415.90,95.00 L415.96,92.85Z" fill="#ec6d66" stroke="none"/>
<path d="M416.64,92.85 L416.70,95.00 L416.76,96.99 L416.82,98.81 L416.88,100.50 L416.95,102.07 L417.02,103.56 L417.10,105.00 L417.19,106.35 L417.28,107.59 L417.38,108.75 L417.49,109.85 L417.59,110.93 L417.70,112.00 L417.81,113.06 L417.92,114.07 L418.03,115.06 L418.15,116.04 L418.27,117.01 L418.40,118.00 L418.54,119.02 L418.69,120.07 L418.84,121.11 L418.99,122.13 L419.15,123.10 L419.30,124.00 L419.44,124.65 L419.57,125.03 L419.69,125.36 L419.83,125.86 L420.00,126.73 L420.20,128.20 L420.46,130.56 L420.76,133.72 L421.09,137.25 L421.43,140.75 L421.74,143.80 L422.00,146.00 L422.20,147.24 L422.34,147.81 L422.46,147.95 L422.59,147.85 L422.76,147.73 L423.00,147.80 L423.30,148.01 L423.63,148.17 L424.01,148.31 L424.43,148.45 L424.93,148.61 L425.50,148.80 L426.23,149.05 L427.14,149.35 L428.11,149.66 L429.04,149.96 L429.84,150.22 L430.40,150.40 L402.20,150.40 L402.76,150.22 L403.56,149.96 L404.49,149.66 L405.46,149.35 L406.37,149.05 L407.10,148.80 L407.67,148.61 L408.17,148.45 L408.59,148.31 L408.97,148.17 L409.30,148.01 L409.60,147.80 L409.84,147.73 L410.01,147.85 L410.14,147.95 L410.26,147.81 L410.40,147.24 L410.60,146.00 L410.86,143.80 L411.17,140.75 L411.51,137.25 L411.84,133.72 L412.14,130.56 L412.40,128.20 L412.60,126.73 L412.77,125.86 L412.91,125.36 L413.03,125.03 L413.16,124.65 L413.30,124.00 L413.45,123.10 L413.61,122.13 L413.76,121.11 L413.91,120.07 L414.06,119.02 L414.20,118.00 L414.33,117.01 L414.45,116.04 L414.57,115.06 L414.68,114.07 L414.79,113.06 L414.90,112.00 L415.01,110.93 L415.11,109.85 L415.22,108.75 L415.32,107.59 L415.41,106.35 L415.50,105.00 L415.58,103.56 L415.65,102.07 L415.72,100.50 L415.78,98.81 L415.84,96.99 L415.90,95.00 L415.96,92.85" fill="none" stroke="#523838" stroke-width="0.95" stroke-linejoin="round" stroke-linecap="butt"/>
<line x1="416.30" y1="112.00" x2="416.30" y2="150.40" stroke="#523838" stroke-width="0.55"/>
<rect x="411.00" y="128.20" width="10.60" height="22.00" fill="#ec6d66" stroke="#523838" stroke-width="0.9"/>
<line x1="411.00" y1="138.20" x2="421.60" y2="138.20" stroke="#523838" stroke-width="0.9"/>
<path d="M294.1,26.7 V22.5 H334.9 V26.7" fill="none" stroke="#554a4a" stroke-width="1.0"/>
<polygon points="309.60,16.65 310.23,17.93 311.64,18.14 310.62,19.13 310.86,20.54 309.60,19.88 308.34,20.54 308.58,19.13 307.56,18.14 308.97,17.93" fill="#222"/>
<polygon points="314.50,16.65 315.13,17.93 316.54,18.14 315.52,19.13 315.76,20.54 314.50,19.88 313.24,20.54 313.48,19.13 312.46,18.14 313.87,17.93" fill="#222"/>
<polygon points="319.40,16.65 320.03,17.93 321.44,18.14 320.42,19.13 320.66,20.54 319.40,19.88 318.14,20.54 318.38,19.13 317.36,18.14 318.77,17.93" fill="#222"/>
<path d="M375.4,26.7 V22.5 H416.3 V26.7" fill="none" stroke="#554a4a" stroke-width="1.0"/>
<polygon points="390.95,16.65 391.58,17.93 392.99,18.14 391.97,19.13 392.21,20.54 390.95,19.88 389.69,20.54 389.93,19.13 388.91,18.14 390.32,17.93" fill="#222"/>
<polygon points="395.85,16.65 396.48,17.93 397.89,18.14 396.87,19.13 397.11,20.54 395.85,19.88 394.59,20.54 394.83,19.13 393.81,18.14 395.22,17.93" fill="#222"/>
<polygon points="400.75,16.65 401.38,17.93 402.79,18.14 401.77,19.13 402.01,20.54 400.75,19.88 399.49,20.54 399.73,19.13 398.71,18.14 400.12,17.93" fill="#222"/>
<text transform="translate(317.40,166.80) rotate(-30)" text-anchor="end" font-size="7.3" fill="#222222" textLength="25.18" lengthAdjust="spacingAndGlyphs">Human</text>
<text transform="translate(399.40,166.80) rotate(-30)" text-anchor="end" font-size="7.3" fill="#222222" textLength="58.79" lengthAdjust="spacingAndGlyphs">Rhesus macaque</text>
<text x="449.2" y="8.8" font-size="12" font-weight="bold" fill="#000" style="stroke:#000;stroke-width:0.55px">c</text>
<line x1="492.4" y1="33.6" x2="492.4" y2="156.7" stroke="#8e8e8e" stroke-width="0.95"/>
<line x1="491.95" y1="156.2" x2="582" y2="156.2" stroke="#a8a8a8" stroke-width="1.0"/>
<line x1="489.09999999999997" y1="150.1" x2="492.4" y2="150.1" stroke="#8e8e8e" stroke-width="0.95"/>
<text x="484.90" y="152.90" text-anchor="end" font-size="7.8" fill="#222222" textLength="4.87" lengthAdjust="spacingAndGlyphs">0</text>
<line x1="489.09999999999997" y1="127.0" x2="492.4" y2="127.0" stroke="#8e8e8e" stroke-width="0.95"/>
<text x="484.90" y="129.80" text-anchor="end" font-size="7.8" fill="#222222" textLength="16.34" lengthAdjust="spacingAndGlyphs">2.50</text>
<line x1="489.09999999999997" y1="103.9" x2="492.4" y2="103.9" stroke="#8e8e8e" stroke-width="0.95"/>
<text x="484.90" y="106.70" text-anchor="end" font-size="7.8" fill="#222222" textLength="16.34" lengthAdjust="spacingAndGlyphs">5.00</text>
<line x1="489.09999999999997" y1="80.8" x2="492.4" y2="80.8" stroke="#8e8e8e" stroke-width="0.95"/>
<text x="484.90" y="83.60" text-anchor="end" font-size="7.8" fill="#222222" textLength="16.34" lengthAdjust="spacingAndGlyphs">7.50</text>
<line x1="489.09999999999997" y1="57.7" x2="492.4" y2="57.7" stroke="#8e8e8e" stroke-width="0.95"/>
<text x="484.90" y="60.50" text-anchor="end" font-size="7.8" fill="#222222" textLength="19.71" lengthAdjust="spacingAndGlyphs">10.00</text>
<line x1="489.09999999999997" y1="34.6" x2="492.4" y2="34.6" stroke="#8e8e8e" stroke-width="0.95"/>
<text x="484.90" y="37.40" text-anchor="end" font-size="7.8" fill="#222222" textLength="19.71" lengthAdjust="spacingAndGlyphs">12.50</text>
<line x1="513" y1="156.2" x2="513" y2="159.5" stroke="#8e8e8e" stroke-width="0.95"/>
<line x1="558.5" y1="156.2" x2="558.5" y2="159.5" stroke="#8e8e8e" stroke-width="0.95"/>
<text transform="translate(456.5,93.6) rotate(-90)" text-anchor="middle" font-size="8.8" fill="#222222">ISOR</text>
<line x1="513.00" y1="39.20" x2="513.00" y2="47.76" stroke="#675050" stroke-width="1.2"/>
<path d="M513.32,45.76 L513.51,47.89 L513.70,50.00 L513.91,52.18 L514.15,54.54 L514.40,56.99 L514.65,59.44 L514.89,61.80 L515.10,64.00 L515.28,65.98 L515.43,67.79 L515.57,69.52 L515.70,71.24 L515.84,73.05 L516.00,75.00 L516.18,77.15 L516.39,79.46 L516.61,81.83 L516.81,84.21 L516.98,86.52 L517.10,88.70 L517.17,90.45 L517.20,91.77 L517.21,93.02 L517.19,94.57 L517.15,96.77 L517.10,100.00 L517.03,104.69 L516.92,110.65 L516.80,117.26 L516.68,123.93 L516.57,130.04 L516.50,135.00 L516.47,138.84 L516.46,142.07 L516.46,144.74 L516.48,146.92 L516.49,148.69 L516.50,150.10 L509.50,150.10 L509.51,148.69 L509.52,146.92 L509.54,144.74 L509.54,142.07 L509.53,138.84 L509.50,135.00 L509.43,130.04 L509.32,123.93 L509.20,117.26 L509.08,110.65 L508.97,104.69 L508.90,100.00 L508.85,96.77 L508.81,94.57 L508.79,93.02 L508.80,91.77 L508.83,90.45 L508.90,88.70 L509.02,86.52 L509.19,84.21 L509.39,81.83 L509.61,79.46 L509.82,77.15 L510.00,75.00 L510.16,73.05 L510.30,71.24 L510.43,69.52 L510.57,67.79 L510.72,65.98 L510.90,64.00 L511.11,61.80 L511.35,59.44 L511.60,56.99 L511.85,54.54 L512.09,52.18 L512.30,50.00 L512.49,47.89 L512.68,45.76Z" fill="#ec6d66" stroke="none"/>
<path d="M513.32,45.76 L513.51,47.89 L513.70,50.00 L513.91,52.18 L514.15,54.54 L514.40,56.99 L514.65,59.44 L514.89,61.80 L515.10,64.00 L515.28,65.98 L515.43,67.79 L515.57,69.52 L515.70,71.24 L515.84,73.05 L516.00,75.00 L516.18,77.15 L516.39,79.46 L516.61,81.83 L516.81,84.21 L516.98,86.52 L517.10,88.70 L517.17,90.45 L517.20,91.77 L517.21,93.02 L517.19,94.57 L517.15,96.77 L517.10,100.00 L517.03,104.69 L516.92,110.65 L516.80,117.26 L516.68,123.93 L516.57,130.04 L516.50,135.00 L516.47,138.84 L516.46,142.07 L516.46,144.74 L516.48,146.92 L516.49,148.69 L516.50,150.10 L509.50,150.10 L509.51,148.69 L509.52,146.92 L509.54,144.74 L509.54,142.07 L509.53,138.84 L509.50,135.00 L509.43,130.04 L509.32,123.93 L509.20,117.26 L509.08,110.65 L508.97,104.69 L508.90,100.00 L508.85,96.77 L508.81,94.57 L508.79,93.02 L508.80,91.77 L508.83,90.45 L508.90,88.70 L509.02,86.52 L509.19,84.21 L509.39,81.83 L509.61,79.46 L509.82,77.15 L510.00,75.00 L510.16,73.05 L510.30,71.24 L510.43,69.52 L510.57,67.79 L510.72,65.98 L510.90,64.00 L511.11,61.80 L511.35,59.44 L511.60,56.99 L511.85,54.54 L512.09,52.18 L512.30,50.00 L512.49,47.89 L512.68,45.76" fill="none" stroke="#523838" stroke-width="0.95" stroke-linejoin="round" stroke-linecap="butt"/>
<line x1="513.00" y1="56.99" x2="513.00" y2="150.10" stroke="#523838" stroke-width="0.55"/>
<rect x="508.50" y="89.60" width="9.10" height="45.70" fill="#ec6d66" stroke="#523838" stroke-width="0.9"/>
<line x1="508.50" y1="115.50" x2="517.60" y2="115.50" stroke="#523838" stroke-width="0.9"/>
<line x1="558.50" y1="39.00" x2="558.50" y2="68.37" stroke="#695a5a" stroke-width="1.2"/>
<path d="M558.86,66.37 L558.95,69.44 L559.03,72.63 L559.12,76.10 L559.20,80.00 L559.28,84.58 L559.34,89.78 L559.41,95.25 L559.48,100.67 L559.58,105.69 L559.70,110.00 L559.85,113.58 L560.03,116.70 L560.23,119.44 L560.44,121.85 L560.67,124.02 L560.90,126.00 L561.16,127.69 L561.44,129.01 L561.74,130.08 L562.03,131.01 L562.29,131.95 L562.50,133.00 L562.65,134.20 L562.76,135.45 L562.83,136.70 L562.90,137.88 L562.98,138.94 L563.10,139.80 L563.25,140.44 L563.40,140.89 L563.58,141.21 L563.76,141.47 L563.97,141.71 L564.20,142.00 L564.42,142.32 L564.62,142.61 L564.84,142.89 L565.11,143.18 L565.49,143.48 L566.00,143.80 L566.66,144.15 L567.46,144.53 L568.34,144.91 L569.30,145.31 L570.30,145.71 L571.30,146.10 L572.37,146.50 L573.54,146.92 L574.74,147.34 L575.93,147.76 L577.03,148.15 L578.00,148.50 L578.85,148.83 L579.62,149.15 L580.32,149.45 L580.92,149.71 L581.42,149.94 L581.80,150.10 L535.20,150.10 L535.58,149.94 L536.08,149.71 L536.68,149.45 L537.38,149.15 L538.15,148.83 L539.00,148.50 L539.97,148.15 L541.07,147.76 L542.26,147.34 L543.46,146.92 L544.63,146.50 L545.70,146.10 L546.70,145.71 L547.70,145.31 L548.66,144.91 L549.54,144.53 L550.34,144.15 L551.00,143.80 L551.51,143.48 L551.89,143.18 L552.16,142.89 L552.38,142.61 L552.58,142.32 L552.80,142.00 L553.03,141.71 L553.24,141.47 L553.42,141.21 L553.60,140.89 L553.75,140.44 L553.90,139.80 L554.02,138.94 L554.10,137.88 L554.17,136.70 L554.24,135.45 L554.35,134.20 L554.50,133.00 L554.71,131.95 L554.97,131.01 L555.26,130.08 L555.56,129.01 L555.84,127.69 L556.10,126.00 L556.33,124.02 L556.56,121.85 L556.77,119.44 L556.97,116.70 L557.15,113.58 L557.30,110.00 L557.42,105.69 L557.52,100.67 L557.59,95.25 L557.66,89.78 L557.72,84.58 L557.80,80.00 L557.88,76.10 L557.97,72.63 L558.05,69.44 L558.14,66.37Z" fill="#f9d0d0" stroke="none"/>
<path d="M558.86,66.37 L558.95,69.44 L559.03,72.63 L559.12,76.10 L559.20,80.00 L559.28,84.58 L559.34,89.78 L559.41,95.25 L559.48,100.67 L559.58,105.69 L559.70,110.00 L559.85,113.58 L560.03,116.70 L560.23,119.44 L560.44,121.85 L560.67,124.02 L560.90,126.00 L561.16,127.69 L561.44,129.01 L561.74,130.08 L562.03,131.01 L562.29,131.95 L562.50,133.00 L562.65,134.20 L562.76,135.45 L562.83,136.70 L562.90,137.88 L562.98,138.94 L563.10,139.80 L563.25,140.44 L563.40,140.89 L563.58,141.21 L563.76,141.47 L563.97,141.71 L564.20,142.00 L564.42,142.32 L564.62,142.61 L564.84,142.89 L565.11,143.18 L565.49,143.48 L566.00,143.80 L566.66,144.15 L567.46,144.53 L568.34,144.91 L569.30,145.31 L570.30,145.71 L571.30,146.10 L572.37,146.50 L573.54,146.92 L574.74,147.34 L575.93,147.76 L577.03,148.15 L578.00,148.50 L578.85,148.83 L579.62,149.15 L580.32,149.45 L580.92,149.71 L581.42,149.94 L581.80,150.10 L535.20,150.10 L535.58,149.94 L536.08,149.71 L536.68,149.45 L537.38,149.15 L538.15,148.83 L539.00,148.50 L539.97,148.15 L541.07,147.76 L542.26,147.34 L543.46,146.92 L544.63,146.50 L545.70,146.10 L546.70,145.71 L547.70,145.31 L548.66,144.91 L549.54,144.53 L550.34,144.15 L551.00,143.80 L551.51,143.48 L551.89,143.18 L552.16,142.89 L552.38,142.61 L552.58,142.32 L552.80,142.00 L553.03,141.71 L553.24,141.47 L553.42,141.21 L553.60,140.89 L553.75,140.44 L553.90,139.80 L554.02,138.94 L554.10,137.88 L554.17,136.70 L554.24,135.45 L554.35,134.20 L554.50,133.00 L554.71,131.95 L554.97,131.01 L555.26,130.08 L555.56,129.01 L555.84,127.69 L556.10,126.00 L556.33,124.02 L556.56,121.85 L556.77,119.44 L556.97,116.70 L557.15,113.58 L557.30,110.00 L557.42,105.69 L557.52,100.67 L557.59,95.25 L557.66,89.78 L557.72,84.58 L557.80,80.00 L557.88,76.10 L557.97,72.63 L558.05,69.44 L558.14,66.37" fill="none" stroke="#544444" stroke-width="0.95" stroke-linejoin="round" stroke-linecap="butt"/>
<line x1="558.50" y1="113.58" x2="558.50" y2="150.10" stroke="#544444" stroke-width="0.55"/>
<rect x="554.20" y="133.10" width="8.60" height="17.00" fill="#f9d0d0" stroke="#544444" stroke-width="0.9"/>
<line x1="554.20" y1="147.20" x2="562.80" y2="147.20" stroke="#544444" stroke-width="0.9"/>
<path d="M513,26.8 V22.6 H558.5 V26.8" fill="none" stroke="#554a4a" stroke-width="1.0"/>
<polygon points="530.85,16.75 531.48,18.03 532.89,18.24 531.87,19.23 532.11,20.64 530.85,19.98 529.59,20.64 529.83,19.23 528.81,18.24 530.22,18.03" fill="#222"/>
<polygon points="535.75,16.75 536.38,18.03 537.79,18.24 536.77,19.23 537.01,20.64 535.75,19.98 534.49,20.64 534.73,19.23 533.71,18.24 535.12,18.03" fill="#222"/>
<polygon points="540.65,16.75 541.28,18.03 542.69,18.24 541.67,19.23 541.91,20.64 540.65,19.98 539.39,20.64 539.63,19.23 538.61,18.24 540.02,18.03" fill="#222"/>
<text transform="translate(516.90,167.00) rotate(-30)" text-anchor="end" font-size="7.3" fill="#222222" textLength="74.16" lengthAdjust="spacingAndGlyphs">Protein-coding genes</text>
<text transform="translate(562.40,167.00) rotate(-30)" text-anchor="end" font-size="7.3" fill="#222222" textLength="38.63" lengthAdjust="spacingAndGlyphs">lncRNA loci</text>
<rect x="589.2" y="79.5" width="6.4" height="6.2" fill="#ec6d66" stroke="#523838" stroke-width="0.7"/>
<text x="599.6" y="85.4" font-size="9" fill="#222222">Protein-coding genes</text>
<rect x="587.2" y="100.9" width="6.4" height="6.4" fill="#f9d0d0" stroke="#544444" stroke-width="0.7"/>
<text x="599.8" y="106.8" font-size="9" fill="#222222">lncRNA loci</text>
<text x="-0.3" y="230.4" font-size="12" font-weight="bold" fill="#000" style="stroke:#000;stroke-width:0.55px">d</text>
<line x1="43.7" y1="245" x2="43.7" y2="369.4" stroke="#8e8e8e" stroke-width="0.95"/>
<line x1="43.25" y1="368.9" x2="113.1" y2="368.9" stroke="#a8a8a8" stroke-width="1.0"/>
<line x1="40.400000000000006" y1="363.1" x2="43.7" y2="363.1" stroke="#8e8e8e" stroke-width="0.95"/>
<text x="36.20" y="365.90" text-anchor="end" font-size="7.8" fill="#222222" textLength="20.54" lengthAdjust="spacingAndGlyphs">−4.00</text>
<line x1="40.400000000000006" y1="335.1" x2="43.7" y2="335.1" stroke="#8e8e8e" stroke-width="0.95"/>
<text x="36.20" y="337.90" text-anchor="end" font-size="7.8" fill="#222222" textLength="20.54" lengthAdjust="spacingAndGlyphs">−2.00</text>
<line x1="40.400000000000006" y1="307.1" x2="43.7" y2="307.1" stroke="#8e8e8e" stroke-width="0.95"/>
<text x="36.20" y="309.90" text-anchor="end" font-size="7.8" fill="#222222" textLength="4.87" lengthAdjust="spacingAndGlyphs">0</text>
<line x1="40.400000000000006" y1="278.9" x2="43.7" y2="278.9" stroke="#8e8e8e" stroke-width="0.95"/>
<text x="36.20" y="281.70" text-anchor="end" font-size="7.8" fill="#222222" textLength="16.34" lengthAdjust="spacingAndGlyphs">2.00</text>
<line x1="40.400000000000006" y1="250.4" x2="43.7" y2="250.4" stroke="#8e8e8e" stroke-width="0.95"/>
<text x="36.20" y="253.20" text-anchor="end" font-size="7.8" fill="#222222" textLength="16.34" lengthAdjust="spacingAndGlyphs">4.00</text>
<line x1="62.4" y1="368.9" x2="62.4" y2="372.2" stroke="#8e8e8e" stroke-width="0.95"/>
<line x1="94.3" y1="368.9" x2="94.3" y2="372.2" stroke="#8e8e8e" stroke-width="0.95"/>
<text transform="translate(7.9,307.1) rotate(-90)" text-anchor="middle" font-size="8.8" fill="#222222">Normalized N/C ratios</text>
<line x1="62.60" y1="250.70" x2="62.60" y2="266.40" stroke="#6e5337" stroke-width="1.2"/>
<line x1="62.60" y1="338.00" x2="62.60" y2="351.70" stroke="#6e5337" stroke-width="1.2"/>
<path d="M63.00,264.40 L63.15,266.84 L63.30,269.41 L63.47,272.01 L63.66,274.51 L63.86,276.81 L64.10,278.80 L64.35,280.42 L64.60,281.73 L64.87,282.85 L65.18,283.87 L65.55,284.88 L66.00,286.00 L66.54,287.20 L67.17,288.40 L67.86,289.60 L68.57,290.80 L69.30,292.00 L70.00,293.20 L70.71,294.40 L71.46,295.60 L72.22,296.80 L72.95,298.00 L73.62,299.20 L74.20,300.40 L74.69,301.66 L75.12,302.99 L75.50,304.32 L75.81,305.59 L76.08,306.70 L76.30,307.60 L76.50,308.17 L76.70,308.44 L76.84,308.57 L76.89,308.70 L76.81,309.00 L76.55,309.60 L76.08,310.56 L75.42,311.76 L74.63,313.13 L73.76,314.56 L72.86,315.98 L72.00,317.30 L71.12,318.53 L70.18,319.74 L69.21,320.93 L68.26,322.12 L67.38,323.31 L66.60,324.50 L65.92,325.69 L65.30,326.86 L64.75,328.03 L64.26,329.22 L63.85,330.44 L63.50,331.70 L63.25,332.98 L63.11,334.26 L63.04,335.57 L63.00,336.94 L62.97,338.41 L62.90,340.00 L62.30,340.00 L62.23,338.41 L62.20,336.94 L62.16,335.57 L62.09,334.26 L61.95,332.98 L61.70,331.70 L61.35,330.44 L60.94,329.22 L60.45,328.03 L59.90,326.86 L59.28,325.69 L58.60,324.50 L57.82,323.31 L56.94,322.12 L55.99,320.93 L55.02,319.74 L54.08,318.53 L53.20,317.30 L52.34,315.98 L51.44,314.56 L50.57,313.13 L49.78,311.76 L49.12,310.56 L48.65,309.60 L48.39,309.00 L48.31,308.70 L48.36,308.57 L48.50,308.44 L48.70,308.17 L48.90,307.60 L49.12,306.70 L49.39,305.59 L49.70,304.32 L50.08,302.99 L50.51,301.66 L51.00,300.40 L51.58,299.20 L52.25,298.00 L52.98,296.80 L53.74,295.60 L54.49,294.40 L55.20,293.20 L55.90,292.00 L56.63,290.80 L57.34,289.60 L58.03,288.40 L58.66,287.20 L59.20,286.00 L59.65,284.88 L60.02,283.87 L60.33,282.85 L60.60,281.73 L60.85,280.42 L61.10,278.80 L61.34,276.81 L61.54,274.51 L61.73,272.01 L61.90,269.41 L62.05,266.84 L62.20,264.40Z" fill="#f08c2a" stroke="none"/>
<path d="M63.00,264.40 L63.15,266.84 L63.30,269.41 L63.47,272.01 L63.66,274.51 L63.86,276.81 L64.10,278.80 L64.35,280.42 L64.60,281.73 L64.87,282.85 L65.18,283.87 L65.55,284.88 L66.00,286.00 L66.54,287.20 L67.17,288.40 L67.86,289.60 L68.57,290.80 L69.30,292.00 L70.00,293.20 L70.71,294.40 L71.46,295.60 L72.22,296.80 L72.95,298.00 L73.62,299.20 L74.20,300.40 L74.69,301.66 L75.12,302.99 L75.50,304.32 L75.81,305.59 L76.08,306.70 L76.30,307.60 L76.50,308.17 L76.70,308.44 L76.84,308.57 L76.89,308.70 L76.81,309.00 L76.55,309.60 L76.08,310.56 L75.42,311.76 L74.63,313.13 L73.76,314.56 L72.86,315.98 L72.00,317.30 L71.12,318.53 L70.18,319.74 L69.21,320.93 L68.26,322.12 L67.38,323.31 L66.60,324.50 L65.92,325.69 L65.30,326.86 L64.75,328.03 L64.26,329.22 L63.85,330.44 L63.50,331.70 L63.25,332.98 L63.11,334.26 L63.04,335.57 L63.00,336.94 L62.97,338.41 L62.90,340.00 M62.30,340.00 L62.23,338.41 L62.20,336.94 L62.16,335.57 L62.09,334.26 L61.95,332.98 L61.70,331.70 L61.35,330.44 L60.94,329.22 L60.45,328.03 L59.90,326.86 L59.28,325.69 L58.60,324.50 L57.82,323.31 L56.94,322.12 L55.99,320.93 L55.02,319.74 L54.08,318.53 L53.20,317.30 L52.34,315.98 L51.44,314.56 L50.57,313.13 L49.78,311.76 L49.12,310.56 L48.65,309.60 L48.39,309.00 L48.31,308.70 L48.36,308.57 L48.50,308.44 L48.70,308.17 L48.90,307.60 L49.12,306.70 L49.39,305.59 L49.70,304.32 L50.08,302.99 L50.51,301.66 L51.00,300.40 L51.58,299.20 L52.25,298.00 L52.98,296.80 L53.74,295.60 L54.49,294.40 L55.20,293.20 L55.90,292.00 L56.63,290.80 L57.34,289.60 L58.03,288.40 L58.66,287.20 L59.20,286.00 L59.65,284.88 L60.02,283.87 L60.33,282.85 L60.60,281.73 L60.85,280.42 L61.10,278.80 L61.34,276.81 L61.54,274.51 L61.73,272.01 L61.90,269.41 L62.05,266.84 L62.20,264.40" fill="none" stroke="#5a3c1c" stroke-width="0.95" stroke-linejoin="round" stroke-linecap="butt"/>
<line x1="62.60" y1="278.80" x2="62.60" y2="329.22" stroke="#5a3c1c" stroke-width="0.55"/>
<rect x="57.50" y="300.50" width="10.10" height="14.80" fill="#f08c2a" stroke="#5a3c1c" stroke-width="0.9"/>
<line x1="57.50" y1="308.30" x2="67.60" y2="308.30" stroke="#5a3c1c" stroke-width="0.9"/>
<line x1="94.40" y1="250.70" x2="94.40" y2="266.40" stroke="#716759" stroke-width="1.2"/>
<line x1="94.40" y1="341.54" x2="94.40" y2="363.70" stroke="#716759" stroke-width="1.2"/>
<path d="M94.70,264.40 L94.82,266.84 L94.94,269.41 L95.08,272.01 L95.22,274.51 L95.36,276.81 L95.50,278.80 L95.62,280.42 L95.73,281.73 L95.83,282.85 L95.96,283.87 L96.14,284.88 L96.40,286.00 L96.72,287.20 L97.09,288.40 L97.51,289.60 L97.99,290.80 L98.51,292.00 L99.10,293.20 L99.78,294.40 L100.56,295.60 L101.39,296.80 L102.24,298.00 L103.06,299.20 L103.80,300.40 L104.49,301.63 L105.16,302.90 L105.81,304.16 L106.40,305.39 L106.94,306.55 L107.40,307.60 L107.81,308.51 L108.19,309.31 L108.50,310.03 L108.73,310.73 L108.84,311.43 L108.80,312.20 L108.59,313.00 L108.22,313.79 L107.74,314.59 L107.18,315.43 L106.58,316.32 L106.00,317.30 L105.41,318.38 L104.78,319.54 L104.12,320.77 L103.43,322.02 L102.72,323.28 L102.00,324.50 L101.23,325.71 L100.39,326.93 L99.54,328.16 L98.71,329.37 L97.95,330.55 L97.30,331.70 L96.77,332.74 L96.32,333.66 L95.94,334.55 L95.61,335.51 L95.34,336.63 L95.10,338.00 L94.92,339.65 L94.80,341.51 L94.74,343.54 L94.06,343.54 L94.00,341.51 L93.88,339.65 L93.70,338.00 L93.46,336.63 L93.19,335.51 L92.86,334.55 L92.48,333.66 L92.03,332.74 L91.50,331.70 L90.85,330.55 L90.09,329.37 L89.26,328.16 L88.41,326.93 L87.57,325.71 L86.80,324.50 L86.08,323.28 L85.37,322.02 L84.68,320.77 L84.02,319.54 L83.39,318.38 L82.80,317.30 L82.22,316.32 L81.62,315.43 L81.06,314.59 L80.58,313.79 L80.21,313.00 L80.00,312.20 L79.96,311.43 L80.07,310.73 L80.30,310.03 L80.61,309.31 L80.99,308.51 L81.40,307.60 L81.86,306.55 L82.40,305.39 L82.99,304.16 L83.64,302.90 L84.31,301.63 L85.00,300.40 L85.74,299.20 L86.56,298.00 L87.41,296.80 L88.24,295.60 L89.02,294.40 L89.70,293.20 L90.29,292.00 L90.81,290.80 L91.29,289.60 L91.71,288.40 L92.08,287.20 L92.40,286.00 L92.66,284.88 L92.84,283.87 L92.97,282.85 L93.07,281.73 L93.18,280.42 L93.30,278.80 L93.44,276.81 L93.58,274.51 L93.72,272.01 L93.86,269.41 L93.98,266.84 L94.10,264.40Z" fill="#fde0bc" stroke="none"/>
<path d="M94.70,264.40 L94.82,266.84 L94.94,269.41 L95.08,272.01 L95.22,274.51 L95.36,276.81 L95.50,278.80 L95.62,280.42 L95.73,281.73 L95.83,282.85 L95.96,283.87 L96.14,284.88 L96.40,286.00 L96.72,287.20 L97.09,288.40 L97.51,289.60 L97.99,290.80 L98.51,292.00 L99.10,293.20 L99.78,294.40 L100.56,295.60 L101.39,296.80 L102.24,298.00 L103.06,299.20 L103.80,300.40 L104.49,301.63 L105.16,302.90 L105.81,304.16 L106.40,305.39 L106.94,306.55 L107.40,307.60 L107.81,308.51 L108.19,309.31 L108.50,310.03 L108.73,310.73 L108.84,311.43 L108.80,312.20 L108.59,313.00 L108.22,313.79 L107.74,314.59 L107.18,315.43 L106.58,316.32 L106.00,317.30 L105.41,318.38 L104.78,319.54 L104.12,320.77 L103.43,322.02 L102.72,323.28 L102.00,324.50 L101.23,325.71 L100.39,326.93 L99.54,328.16 L98.71,329.37 L97.95,330.55 L97.30,331.70 L96.77,332.74 L96.32,333.66 L95.94,334.55 L95.61,335.51 L95.34,336.63 L95.10,338.00 L94.92,339.65 L94.80,341.51 L94.74,343.54 M94.06,343.54 L94.00,341.51 L93.88,339.65 L93.70,338.00 L93.46,336.63 L93.19,335.51 L92.86,334.55 L92.48,333.66 L92.03,332.74 L91.50,331.70 L90.85,330.55 L90.09,329.37 L89.26,328.16 L88.41,326.93 L87.57,325.71 L86.80,324.50 L86.08,323.28 L85.37,322.02 L84.68,320.77 L84.02,319.54 L83.39,318.38 L82.80,317.30 L82.22,316.32 L81.62,315.43 L81.06,314.59 L80.58,313.79 L80.21,313.00 L80.00,312.20 L79.96,311.43 L80.07,310.73 L80.30,310.03 L80.61,309.31 L80.99,308.51 L81.40,307.60 L81.86,306.55 L82.40,305.39 L82.99,304.16 L83.64,302.90 L84.31,301.63 L85.00,300.40 L85.74,299.20 L86.56,298.00 L87.41,296.80 L88.24,295.60 L89.02,294.40 L89.70,293.20 L90.29,292.00 L90.81,290.80 L91.29,289.60 L91.71,288.40 L92.08,287.20 L92.40,286.00 L92.66,284.88 L92.84,283.87 L92.97,282.85 L93.07,281.73 L93.18,280.42 L93.30,278.80 L93.44,276.81 L93.58,274.51 L93.72,272.01 L93.86,269.41 L93.98,266.84 L94.10,264.40" fill="none" stroke="#5e5242" stroke-width="0.95" stroke-linejoin="round" stroke-linecap="butt"/>
<line x1="94.40" y1="281.73" x2="94.40" y2="334.55" stroke="#5e5242" stroke-width="0.55"/>
<rect x="89.40" y="302.60" width="9.60" height="14.70" fill="#fde0bc" stroke="#5e5242" stroke-width="0.9"/>
<line x1="89.40" y1="311.00" x2="99.00" y2="311.00" stroke="#5e5242" stroke-width="0.9"/>
<path d="M62.6,240.5 V236.3 H94.4 V240.5" fill="none" stroke="#554a4a" stroke-width="1.0"/>
<polygon points="73.60,227.75 74.23,229.03 75.64,229.24 74.62,230.23 74.86,231.64 73.60,230.97 72.34,231.64 72.58,230.23 71.56,229.24 72.97,229.03" fill="#222"/>
<polygon points="78.50,227.75 79.13,229.03 80.54,229.24 79.52,230.23 79.76,231.64 78.50,230.97 77.24,231.64 77.48,230.23 76.46,229.24 77.87,229.03" fill="#222"/>
<polygon points="83.40,227.75 84.03,229.03 85.44,229.24 84.42,230.23 84.66,231.64 83.40,230.97 82.14,231.64 82.38,230.23 81.36,229.24 82.77,229.03" fill="#222"/>
<text x="62.3" y="383.3" text-anchor="middle" font-size="7.4" fill="#222222">≤5</text>
<text x="94.2" y="383.3" text-anchor="middle" font-size="7.4" fill="#222222">&gt;5</text>
<text x="78.6" y="397.6" text-anchor="middle" font-size="8.2" fill="#222222">ISOR</text>
<text x="126.8" y="230.7" font-size="12" font-weight="bold" fill="#000" style="stroke:#000;stroke-width:0.55px">e</text>
<line x1="166.3" y1="245.5" x2="166.3" y2="368.8" stroke="#8e8e8e" stroke-width="0.95"/>
<line x1="165.85000000000002" y1="368.3" x2="236.1" y2="368.3" stroke="#a8a8a8" stroke-width="1.0"/>
<line x1="163.0" y1="363.4" x2="166.3" y2="363.4" stroke="#8e8e8e" stroke-width="0.95"/>
<text x="158.80" y="366.20" text-anchor="end" font-size="7.8" fill="#222222" textLength="4.87" lengthAdjust="spacingAndGlyphs">0</text>
<line x1="163.0" y1="325.6" x2="166.3" y2="325.6" stroke="#8e8e8e" stroke-width="0.95"/>
<text x="158.80" y="328.40" text-anchor="end" font-size="7.8" fill="#222222" textLength="15.04" lengthAdjust="spacingAndGlyphs">1.00</text>
<line x1="163.0" y1="287.8" x2="166.3" y2="287.8" stroke="#8e8e8e" stroke-width="0.95"/>
<text x="158.80" y="290.60" text-anchor="end" font-size="7.8" fill="#222222" textLength="16.34" lengthAdjust="spacingAndGlyphs">2.00</text>
<line x1="163.0" y1="250.0" x2="166.3" y2="250.0" stroke="#8e8e8e" stroke-width="0.95"/>
<text x="158.80" y="252.80" text-anchor="end" font-size="7.8" fill="#222222" textLength="16.34" lengthAdjust="spacingAndGlyphs">3.00</text>
<line x1="185.3" y1="368.3" x2="185.3" y2="371.6" stroke="#8e8e8e" stroke-width="0.95"/>
<line x1="217.3" y1="368.3" x2="217.3" y2="371.6" stroke="#8e8e8e" stroke-width="0.95"/>
<text transform="translate(133.4,306.2) rotate(-90)" text-anchor="middle" font-size="8.8" fill="#222222">U1 densities in exonic regions</text>
<line x1="185.40" y1="250.30" x2="185.40" y2="279.01" stroke="#6e5337" stroke-width="1.2"/>
<path d="M185.77,277.01 L185.85,280.61 L185.94,284.06 L186.02,287.24 L186.10,290.00 L186.16,292.25 L186.19,294.10 L186.22,295.68 L186.26,297.10 L186.34,298.50 L186.45,300.00 L186.61,301.58 L186.79,303.11 L187.00,304.62 L187.24,306.13 L187.51,307.65 L187.80,309.20 L188.12,310.80 L188.49,312.44 L188.87,314.10 L189.28,315.73 L189.69,317.31 L190.10,318.80 L190.53,320.22 L190.99,321.59 L191.46,322.91 L191.91,324.16 L192.33,325.33 L192.70,326.40 L193.00,327.33 L193.26,328.13 L193.47,328.85 L193.68,329.53 L193.88,330.23 L194.10,331.00 L194.35,331.80 L194.62,332.59 L194.89,333.40 L195.14,334.25 L195.35,335.18 L195.50,336.20 L195.61,337.37 L195.70,338.67 L195.74,340.04 L195.73,341.42 L195.62,342.76 L195.40,344.00 L195.02,345.14 L194.49,346.24 L193.87,347.29 L193.22,348.30 L192.61,349.27 L192.10,350.20 L191.65,351.09 L191.21,351.94 L190.80,352.74 L190.46,353.51 L190.22,354.23 L190.10,354.90 L190.12,355.52 L190.24,356.08 L190.47,356.59 L190.78,357.08 L191.16,357.54 L191.60,358.00 L192.14,358.44 L192.79,358.84 L193.52,359.22 L194.27,359.60 L195.02,359.98 L195.70,360.40 L196.37,360.88 L197.07,361.41 L197.76,361.95 L198.39,362.46 L198.91,362.89 L199.30,363.20 L171.50,363.20 L171.89,362.89 L172.41,362.46 L173.04,361.95 L173.73,361.41 L174.43,360.88 L175.10,360.40 L175.78,359.98 L176.53,359.60 L177.28,359.22 L178.01,358.84 L178.66,358.44 L179.20,358.00 L179.64,357.54 L180.02,357.08 L180.33,356.59 L180.56,356.08 L180.68,355.52 L180.70,354.90 L180.58,354.23 L180.34,353.51 L180.00,352.74 L179.59,351.94 L179.15,351.09 L178.70,350.20 L178.19,349.27 L177.58,348.30 L176.93,347.29 L176.31,346.24 L175.78,345.14 L175.40,344.00 L175.18,342.76 L175.07,341.42 L175.06,340.04 L175.10,338.67 L175.19,337.37 L175.30,336.20 L175.45,335.18 L175.66,334.25 L175.91,333.40 L176.18,332.59 L176.45,331.80 L176.70,331.00 L176.92,330.23 L177.12,329.53 L177.33,328.85 L177.54,328.13 L177.80,327.33 L178.10,326.40 L178.47,325.33 L178.89,324.16 L179.34,322.91 L179.81,321.59 L180.27,320.22 L180.70,318.80 L181.11,317.31 L181.52,315.73 L181.93,314.10 L182.31,312.44 L182.68,310.80 L183.00,309.20 L183.29,307.65 L183.56,306.13 L183.80,304.62 L184.01,303.11 L184.19,301.58 L184.35,300.00 L184.46,298.50 L184.54,297.10 L184.58,295.68 L184.61,294.10 L184.64,292.25 L184.70,290.00 L184.78,287.24 L184.86,284.06 L184.95,280.61 L185.03,277.01Z" fill="#f08c2a" stroke="none"/>
<path d="M185.77,277.01 L185.85,280.61 L185.94,284.06 L186.02,287.24 L186.10,290.00 L186.16,292.25 L186.19,294.10 L186.22,295.68 L186.26,297.10 L186.34,298.50 L186.45,300.00 L186.61,301.58 L186.79,303.11 L187.00,304.62 L187.24,306.13 L187.51,307.65 L187.80,309.20 L188.12,310.80 L188.49,312.44 L188.87,314.10 L189.28,315.73 L189.69,317.31 L190.10,318.80 L190.53,320.22 L190.99,321.59 L191.46,322.91 L191.91,324.16 L192.33,325.33 L192.70,326.40 L193.00,327.33 L193.26,328.13 L193.47,328.85 L193.68,329.53 L193.88,330.23 L194.10,331.00 L194.35,331.80 L194.62,332.59 L194.89,333.40 L195.14,334.25 L195.35,335.18 L195.50,336.20 L195.61,337.37 L195.70,338.67 L195.74,340.04 L195.73,341.42 L195.62,342.76 L195.40,344.00 L195.02,345.14 L194.49,346.24 L193.87,347.29 L193.22,348.30 L192.61,349.27 L192.10,350.20 L191.65,351.09 L191.21,351.94 L190.80,352.74 L190.46,353.51 L190.22,354.23 L190.10,354.90 L190.12,355.52 L190.24,356.08 L190.47,356.59 L190.78,357.08 L191.16,357.54 L191.60,358.00 L192.14,358.44 L192.79,358.84 L193.52,359.22 L194.27,359.60 L195.02,359.98 L195.70,360.40 L196.37,360.88 L197.07,361.41 L197.76,361.95 L198.39,362.46 L198.91,362.89 L199.30,363.20 L171.50,363.20 L171.89,362.89 L172.41,362.46 L173.04,361.95 L173.73,361.41 L174.43,360.88 L175.10,360.40 L175.78,359.98 L176.53,359.60 L177.28,359.22 L178.01,358.84 L178.66,358.44 L179.20,358.00 L179.64,357.54 L180.02,357.08 L180.33,356.59 L180.56,356.08 L180.68,355.52 L180.70,354.90 L180.58,354.23 L180.34,353.51 L180.00,352.74 L179.59,351.94 L179.15,351.09 L178.70,350.20 L178.19,349.27 L177.58,348.30 L176.93,347.29 L176.31,346.24 L175.78,345.14 L175.40,344.00 L175.18,342.76 L175.07,341.42 L175.06,340.04 L175.10,338.67 L175.19,337.37 L175.30,336.20 L175.45,335.18 L175.66,334.25 L175.91,333.40 L176.18,332.59 L176.45,331.80 L176.70,331.00 L176.92,330.23 L177.12,329.53 L177.33,328.85 L177.54,328.13 L177.80,327.33 L178.10,326.40 L178.47,325.33 L178.89,324.16 L179.34,322.91 L179.81,321.59 L180.27,320.22 L180.70,318.80 L181.11,317.31 L181.52,315.73 L181.93,314.10 L182.31,312.44 L182.68,310.80 L183.00,309.20 L183.29,307.65 L183.56,306.13 L183.80,304.62 L184.01,303.11 L184.19,301.58 L184.35,300.00 L184.46,298.50 L184.54,297.10 L184.58,295.68 L184.61,294.10 L184.64,292.25 L184.70,290.00 L184.78,287.24 L184.86,284.06 L184.95,280.61 L185.03,277.01" fill="none" stroke="#5a3c1c" stroke-width="0.95" stroke-linejoin="round" stroke-linecap="butt"/>
<line x1="185.40" y1="303.11" x2="185.40" y2="363.20" stroke="#5a3c1c" stroke-width="0.55"/>
<rect x="180.50" y="327.40" width="9.70" height="25.40" fill="#f08c2a" stroke="#5a3c1c" stroke-width="0.9"/>
<line x1="180.50" y1="340.50" x2="190.20" y2="340.50" stroke="#5a3c1c" stroke-width="0.9"/>
<line x1="217.50" y1="250.30" x2="217.50" y2="279.01" stroke="#716759" stroke-width="1.2"/>
<path d="M217.80,277.01 L217.85,280.61 L217.89,284.06 L217.94,287.24 L218.00,290.00 L218.06,292.25 L218.11,294.10 L218.16,295.68 L218.23,297.10 L218.32,298.50 L218.45,300.00 L218.61,301.58 L218.79,303.11 L219.00,304.62 L219.24,306.13 L219.50,307.65 L219.80,309.20 L220.13,310.80 L220.51,312.44 L220.91,314.10 L221.33,315.73 L221.76,317.31 L222.20,318.80 L222.66,320.22 L223.14,321.59 L223.64,322.91 L224.13,324.16 L224.59,325.33 L225.00,326.40 L225.36,327.33 L225.68,328.13 L225.97,328.85 L226.24,329.53 L226.52,330.23 L226.80,331.00 L227.10,331.80 L227.40,332.59 L227.71,333.40 L228.00,334.25 L228.26,335.18 L228.50,336.20 L228.74,337.37 L229.00,338.67 L229.23,340.04 L229.40,341.42 L229.47,342.76 L229.40,344.00 L229.16,345.14 L228.77,346.24 L228.28,347.29 L227.73,348.30 L227.16,349.27 L226.60,350.20 L225.98,351.09 L225.25,351.94 L224.50,352.74 L223.81,353.51 L223.29,354.23 L223.00,354.90 L222.99,355.52 L223.19,356.08 L223.54,356.59 L224.00,357.08 L224.50,357.54 L225.00,358.00 L225.53,358.44 L226.14,358.84 L226.79,359.22 L227.46,359.60 L228.11,359.98 L228.70,360.40 L229.26,360.88 L229.83,361.41 L230.38,361.95 L230.88,362.46 L231.29,362.89 L231.60,363.20 L203.40,363.20 L203.71,362.89 L204.12,362.46 L204.62,361.95 L205.17,361.41 L205.74,360.88 L206.30,360.40 L206.89,359.98 L207.54,359.60 L208.21,359.22 L208.86,358.84 L209.47,358.44 L210.00,358.00 L210.50,357.54 L211.00,357.08 L211.46,356.59 L211.81,356.08 L212.01,355.52 L212.00,354.90 L211.71,354.23 L211.19,353.51 L210.50,352.74 L209.75,351.94 L209.02,351.09 L208.40,350.20 L207.84,349.27 L207.27,348.30 L206.72,347.29 L206.23,346.24 L205.84,345.14 L205.60,344.00 L205.53,342.76 L205.60,341.42 L205.77,340.04 L206.00,338.67 L206.26,337.37 L206.50,336.20 L206.74,335.18 L207.00,334.25 L207.29,333.40 L207.60,332.59 L207.90,331.80 L208.20,331.00 L208.48,330.23 L208.76,329.53 L209.03,328.85 L209.32,328.13 L209.64,327.33 L210.00,326.40 L210.41,325.33 L210.87,324.16 L211.36,322.91 L211.86,321.59 L212.34,320.22 L212.80,318.80 L213.24,317.31 L213.67,315.73 L214.09,314.10 L214.49,312.44 L214.87,310.80 L215.20,309.20 L215.50,307.65 L215.76,306.13 L216.00,304.62 L216.21,303.11 L216.39,301.58 L216.55,300.00 L216.68,298.50 L216.77,297.10 L216.84,295.68 L216.89,294.10 L216.94,292.25 L217.00,290.00 L217.06,287.24 L217.11,284.06 L217.15,280.61 L217.20,277.01Z" fill="#fde0bc" stroke="none"/>
<path d="M217.80,277.01 L217.85,280.61 L217.89,284.06 L217.94,287.24 L218.00,290.00 L218.06,292.25 L218.11,294.10 L218.16,295.68 L218.23,297.10 L218.32,298.50 L218.45,300.00 L218.61,301.58 L218.79,303.11 L219.00,304.62 L219.24,306.13 L219.50,307.65 L219.80,309.20 L220.13,310.80 L220.51,312.44 L220.91,314.10 L221.33,315.73 L221.76,317.31 L222.20,318.80 L222.66,320.22 L223.14,321.59 L223.64,322.91 L224.13,324.16 L224.59,325.33 L225.00,326.40 L225.36,327.33 L225.68,328.13 L225.97,328.85 L226.24,329.53 L226.52,330.23 L226.80,331.00 L227.10,331.80 L227.40,332.59 L227.71,333.40 L228.00,334.25 L228.26,335.18 L228.50,336.20 L228.74,337.37 L229.00,338.67 L229.23,340.04 L229.40,341.42 L229.47,342.76 L229.40,344.00 L229.16,345.14 L228.77,346.24 L228.28,347.29 L227.73,348.30 L227.16,349.27 L226.60,350.20 L225.98,351.09 L225.25,351.94 L224.50,352.74 L223.81,353.51 L223.29,354.23 L223.00,354.90 L222.99,355.52 L223.19,356.08 L223.54,356.59 L224.00,357.08 L224.50,357.54 L225.00,358.00 L225.53,358.44 L226.14,358.84 L226.79,359.22 L227.46,359.60 L228.11,359.98 L228.70,360.40 L229.26,360.88 L229.83,361.41 L230.38,361.95 L230.88,362.46 L231.29,362.89 L231.60,363.20 L203.40,363.20 L203.71,362.89 L204.12,362.46 L204.62,361.95 L205.17,361.41 L205.74,360.88 L206.30,360.40 L206.89,359.98 L207.54,359.60 L208.21,359.22 L208.86,358.84 L209.47,358.44 L210.00,358.00 L210.50,357.54 L211.00,357.08 L211.46,356.59 L211.81,356.08 L212.01,355.52 L212.00,354.90 L211.71,354.23 L211.19,353.51 L210.50,352.74 L209.75,351.94 L209.02,351.09 L208.40,350.20 L207.84,349.27 L207.27,348.30 L206.72,347.29 L206.23,346.24 L205.84,345.14 L205.60,344.00 L205.53,342.76 L205.60,341.42 L205.77,340.04 L206.00,338.67 L206.26,337.37 L206.50,336.20 L206.74,335.18 L207.00,334.25 L207.29,333.40 L207.60,332.59 L207.90,331.80 L208.20,331.00 L208.48,330.23 L208.76,329.53 L209.03,328.85 L209.32,328.13 L209.64,327.33 L210.00,326.40 L210.41,325.33 L210.87,324.16 L211.36,322.91 L211.86,321.59 L212.34,320.22 L212.80,318.80 L213.24,317.31 L213.67,315.73 L214.09,314.10 L214.49,312.44 L214.87,310.80 L215.20,309.20 L215.50,307.65 L215.76,306.13 L216.00,304.62 L216.21,303.11 L216.39,301.58 L216.55,300.00 L216.68,298.50 L216.77,297.10 L216.84,295.68 L216.89,294.10 L216.94,292.25 L217.00,290.00 L217.06,287.24 L217.11,284.06 L217.15,280.61 L217.20,277.01" fill="none" stroke="#5e5242" stroke-width="0.95" stroke-linejoin="round" stroke-linecap="butt"/>
<line x1="217.50" y1="304.62" x2="217.50" y2="363.20" stroke="#5e5242" stroke-width="0.55"/>
<rect x="212.60" y="330.20" width="10.00" height="21.90" fill="#fde0bc" stroke="#5e5242" stroke-width="0.9"/>
<line x1="212.60" y1="342.40" x2="222.60" y2="342.40" stroke="#5e5242" stroke-width="0.9"/>
<path d="M185.4,240.5 V236.3 H217.5 V240.5" fill="none" stroke="#554a4a" stroke-width="1.0"/>
<polygon points="196.55,227.75 197.18,229.03 198.59,229.24 197.57,230.23 197.81,231.64 196.55,230.97 195.29,231.64 195.53,230.23 194.51,229.24 195.92,229.03" fill="#222"/>
<polygon points="201.45,227.75 202.08,229.03 203.49,229.24 202.47,230.23 202.71,231.64 201.45,230.97 200.19,231.64 200.43,230.23 199.41,229.24 200.82,229.03" fill="#222"/>
<polygon points="206.35,227.75 206.98,229.03 208.39,229.24 207.37,230.23 207.61,231.64 206.35,230.97 205.09,231.64 205.33,230.23 204.31,229.24 205.72,229.03" fill="#222"/>
<text x="185.2" y="382.4" text-anchor="middle" font-size="7.4" fill="#222222">≤5</text>
<text x="217.3" y="382.4" text-anchor="middle" font-size="7.4" fill="#222222">&gt;5</text>
<text x="201.4" y="397.3" text-anchor="middle" font-size="8.2" fill="#222222">ISOR</text>
<text x="248.8" y="230.1" font-size="12" font-weight="bold" fill="#000" style="stroke:#000;stroke-width:0.55px">f</text>
<line x1="294.3" y1="244.5" x2="294.3" y2="369.0" stroke="#8e8e8e" stroke-width="0.95"/>
<line x1="293.85" y1="368.5" x2="356.9" y2="368.5" stroke="#a8a8a8" stroke-width="1.0"/>
<line x1="291.0" y1="362.4" x2="294.3" y2="362.4" stroke="#8e8e8e" stroke-width="0.95"/>
<text x="286.80" y="365.20" text-anchor="end" font-size="7.8" fill="#222222" textLength="4.87" lengthAdjust="spacingAndGlyphs">0</text>
<line x1="291.0" y1="333.4" x2="294.3" y2="333.4" stroke="#8e8e8e" stroke-width="0.95"/>
<text x="286.80" y="336.20" text-anchor="end" font-size="7.8" fill="#222222" textLength="16.34" lengthAdjust="spacingAndGlyphs">5.00</text>
<line x1="291.0" y1="304.4" x2="294.3" y2="304.4" stroke="#8e8e8e" stroke-width="0.95"/>
<text x="286.80" y="307.20" text-anchor="end" font-size="7.8" fill="#222222" textLength="19.71" lengthAdjust="spacingAndGlyphs">10.00</text>
<line x1="291.0" y1="275.4" x2="294.3" y2="275.4" stroke="#8e8e8e" stroke-width="0.95"/>
<text x="286.80" y="278.20" text-anchor="end" font-size="7.8" fill="#222222" textLength="19.71" lengthAdjust="spacingAndGlyphs">15.00</text>
<line x1="291.0" y1="246.4" x2="294.3" y2="246.4" stroke="#8e8e8e" stroke-width="0.95"/>
<text x="286.80" y="249.20" text-anchor="end" font-size="7.8" fill="#222222" textLength="21.01" lengthAdjust="spacingAndGlyphs">20.00</text>
<line x1="313" y1="368.5" x2="313" y2="371.8" stroke="#8e8e8e" stroke-width="0.95"/>
<line x1="343.5" y1="368.5" x2="343.5" y2="371.8" stroke="#8e8e8e" stroke-width="0.95"/>
<text transform="translate(257.8,306.3) rotate(-90)" text-anchor="middle" font-size="8.8" fill="#222222">U1 densities in exonic regions</text>
<line x1="315.00" y1="252.90" x2="315.00" y2="264.11" stroke="#4c5c6e" stroke-width="1.2"/>
<line x1="315.00" y1="352.90" x2="315.00" y2="362.90" stroke="#4c5c6e" stroke-width="1.2"/>
<path d="M315.38,262.11 L315.50,264.40 L315.60,266.86 L315.69,269.60 L315.77,272.46 L315.85,275.26 L315.93,277.83 L316.00,280.00 L316.06,281.73 L316.09,283.13 L316.11,284.31 L316.16,285.36 L316.25,286.35 L316.40,287.40 L316.63,288.44 L316.92,289.40 L317.25,290.31 L317.60,291.22 L317.96,292.17 L318.30,293.20 L318.62,294.32 L318.94,295.50 L319.27,296.71 L319.60,297.95 L319.94,299.18 L320.30,300.40 L320.68,301.61 L321.07,302.83 L321.47,304.05 L321.88,305.26 L322.29,306.45 L322.70,307.60 L323.13,308.71 L323.58,309.77 L324.03,310.81 L324.47,311.85 L324.86,312.91 L325.20,314.00 L325.53,315.11 L325.89,316.21 L326.21,317.33 L326.43,318.48 L326.48,319.70 L326.30,321.00 L325.81,322.42 L325.05,323.93 L324.12,325.51 L323.14,327.11 L322.19,328.69 L321.40,330.20 L320.74,331.61 L320.14,332.94 L319.57,334.24 L319.05,335.59 L318.56,337.02 L318.10,338.60 L317.67,340.35 L317.28,342.22 L316.92,344.19 L316.59,346.21 L316.29,348.26 L316.00,350.30 L315.73,352.49 L315.48,354.90 L314.52,354.90 L314.27,352.49 L314.00,350.30 L313.71,348.26 L313.41,346.21 L313.08,344.19 L312.72,342.22 L312.33,340.35 L311.90,338.60 L311.44,337.02 L310.95,335.59 L310.43,334.24 L309.86,332.94 L309.26,331.61 L308.60,330.20 L307.81,328.69 L306.86,327.11 L305.88,325.51 L304.95,323.93 L304.19,322.42 L303.70,321.00 L303.52,319.70 L303.57,318.48 L303.79,317.33 L304.11,316.21 L304.47,315.11 L304.80,314.00 L305.14,312.91 L305.53,311.85 L305.97,310.81 L306.42,309.77 L306.87,308.71 L307.30,307.60 L307.71,306.45 L308.12,305.26 L308.53,304.05 L308.93,302.83 L309.32,301.61 L309.70,300.40 L310.06,299.18 L310.40,297.95 L310.73,296.71 L311.06,295.50 L311.38,294.32 L311.70,293.20 L312.04,292.17 L312.40,291.22 L312.75,290.31 L313.08,289.40 L313.37,288.44 L313.60,287.40 L313.75,286.35 L313.84,285.36 L313.89,284.31 L313.91,283.13 L313.94,281.73 L314.00,280.00 L314.07,277.83 L314.15,275.26 L314.23,272.46 L314.31,269.60 L314.40,266.86 L314.50,264.40 L314.62,262.11Z" fill="#3f95d8" stroke="none"/>
<path d="M315.38,262.11 L315.50,264.40 L315.60,266.86 L315.69,269.60 L315.77,272.46 L315.85,275.26 L315.93,277.83 L316.00,280.00 L316.06,281.73 L316.09,283.13 L316.11,284.31 L316.16,285.36 L316.25,286.35 L316.40,287.40 L316.63,288.44 L316.92,289.40 L317.25,290.31 L317.60,291.22 L317.96,292.17 L318.30,293.20 L318.62,294.32 L318.94,295.50 L319.27,296.71 L319.60,297.95 L319.94,299.18 L320.30,300.40 L320.68,301.61 L321.07,302.83 L321.47,304.05 L321.88,305.26 L322.29,306.45 L322.70,307.60 L323.13,308.71 L323.58,309.77 L324.03,310.81 L324.47,311.85 L324.86,312.91 L325.20,314.00 L325.53,315.11 L325.89,316.21 L326.21,317.33 L326.43,318.48 L326.48,319.70 L326.30,321.00 L325.81,322.42 L325.05,323.93 L324.12,325.51 L323.14,327.11 L322.19,328.69 L321.40,330.20 L320.74,331.61 L320.14,332.94 L319.57,334.24 L319.05,335.59 L318.56,337.02 L318.10,338.60 L317.67,340.35 L317.28,342.22 L316.92,344.19 L316.59,346.21 L316.29,348.26 L316.00,350.30 L315.73,352.49 L315.48,354.90 M314.52,354.90 L314.27,352.49 L314.00,350.30 L313.71,348.26 L313.41,346.21 L313.08,344.19 L312.72,342.22 L312.33,340.35 L311.90,338.60 L311.44,337.02 L310.95,335.59 L310.43,334.24 L309.86,332.94 L309.26,331.61 L308.60,330.20 L307.81,328.69 L306.86,327.11 L305.88,325.51 L304.95,323.93 L304.19,322.42 L303.70,321.00 L303.52,319.70 L303.57,318.48 L303.79,317.33 L304.11,316.21 L304.47,315.11 L304.80,314.00 L305.14,312.91 L305.53,311.85 L305.97,310.81 L306.42,309.77 L306.87,308.71 L307.30,307.60 L307.71,306.45 L308.12,305.26 L308.53,304.05 L308.93,302.83 L309.32,301.61 L309.70,300.40 L310.06,299.18 L310.40,297.95 L310.73,296.71 L311.06,295.50 L311.38,294.32 L311.70,293.20 L312.04,292.17 L312.40,291.22 L312.75,290.31 L313.08,289.40 L313.37,288.44 L313.60,287.40 L313.75,286.35 L313.84,285.36 L313.89,284.31 L313.91,283.13 L313.94,281.73 L314.00,280.00 L314.07,277.83 L314.15,275.26 L314.23,272.46 L314.31,269.60 L314.40,266.86 L314.50,264.40 L314.62,262.11" fill="none" stroke="#34465a" stroke-width="0.95" stroke-linejoin="round" stroke-linecap="butt"/>
<line x1="315.00" y1="287.40" x2="315.00" y2="346.21" stroke="#34465a" stroke-width="0.55"/>
<rect x="310.40" y="308.30" width="9.40" height="17.20" fill="#3f95d8" stroke="#34465a" stroke-width="0.9"/>
<line x1="310.40" y1="320.10" x2="319.80" y2="320.10" stroke="#34465a" stroke-width="0.9"/>
<line x1="343.60" y1="246.00" x2="343.60" y2="255.35" stroke="#606e7c" stroke-width="1.2"/>
<line x1="343.60" y1="350.21" x2="343.60" y2="362.90" stroke="#606e7c" stroke-width="1.2"/>
<path d="M344.04,253.35 L344.23,255.44 L344.40,257.20 L344.54,258.55 L344.65,259.63 L344.76,260.60 L344.87,261.61 L345.02,262.83 L345.20,264.40 L345.44,266.47 L345.71,268.93 L346.02,271.60 L346.33,274.27 L346.63,276.73 L346.90,278.80 L347.14,280.42 L347.37,281.73 L347.59,282.85 L347.80,283.87 L348.00,284.88 L348.20,286.00 L348.40,287.20 L348.60,288.41 L348.79,289.63 L348.97,290.83 L349.14,292.02 L349.30,293.20 L349.44,294.34 L349.55,295.44 L349.66,296.52 L349.76,297.63 L349.87,298.78 L350.00,300.00 L350.16,301.26 L350.34,302.53 L350.53,303.84 L350.71,305.23 L350.87,306.74 L351.00,308.40 L351.13,310.30 L351.29,312.41 L351.42,314.65 L351.49,316.90 L351.47,319.05 L351.30,321.00 L350.95,322.74 L350.45,324.35 L349.85,325.86 L349.20,327.32 L348.57,328.75 L348.00,330.20 L347.47,331.61 L346.93,332.95 L346.41,334.26 L345.91,335.61 L345.47,337.04 L345.10,338.60 L344.82,340.31 L344.62,342.12 L344.46,344.02 L344.34,345.98 L344.23,347.98 L344.10,350.00 L343.96,352.21 L343.24,352.21 L343.10,350.00 L342.97,347.98 L342.86,345.98 L342.74,344.02 L342.58,342.12 L342.38,340.31 L342.10,338.60 L341.73,337.04 L341.29,335.61 L340.79,334.26 L340.27,332.95 L339.73,331.61 L339.20,330.20 L338.63,328.75 L338.00,327.32 L337.35,325.86 L336.75,324.35 L336.25,322.74 L335.90,321.00 L335.73,319.05 L335.71,316.90 L335.78,314.65 L335.91,312.41 L336.07,310.30 L336.20,308.40 L336.33,306.74 L336.49,305.23 L336.68,303.84 L336.86,302.53 L337.04,301.26 L337.20,300.00 L337.33,298.78 L337.44,297.63 L337.54,296.52 L337.65,295.44 L337.76,294.34 L337.90,293.20 L338.06,292.02 L338.23,290.83 L338.41,289.63 L338.60,288.41 L338.80,287.20 L339.00,286.00 L339.20,284.88 L339.40,283.87 L339.61,282.85 L339.83,281.73 L340.06,280.42 L340.30,278.80 L340.57,276.73 L340.87,274.27 L341.18,271.60 L341.49,268.93 L341.76,266.47 L342.00,264.40 L342.18,262.83 L342.33,261.61 L342.44,260.60 L342.55,259.63 L342.66,258.55 L342.80,257.20 L342.97,255.44 L343.16,253.35Z" fill="#c0dcf2" stroke="none"/>
<path d="M344.04,253.35 L344.23,255.44 L344.40,257.20 L344.54,258.55 L344.65,259.63 L344.76,260.60 L344.87,261.61 L345.02,262.83 L345.20,264.40 L345.44,266.47 L345.71,268.93 L346.02,271.60 L346.33,274.27 L346.63,276.73 L346.90,278.80 L347.14,280.42 L347.37,281.73 L347.59,282.85 L347.80,283.87 L348.00,284.88 L348.20,286.00 L348.40,287.20 L348.60,288.41 L348.79,289.63 L348.97,290.83 L349.14,292.02 L349.30,293.20 L349.44,294.34 L349.55,295.44 L349.66,296.52 L349.76,297.63 L349.87,298.78 L350.00,300.00 L350.16,301.26 L350.34,302.53 L350.53,303.84 L350.71,305.23 L350.87,306.74 L351.00,308.40 L351.13,310.30 L351.29,312.41 L351.42,314.65 L351.49,316.90 L351.47,319.05 L351.30,321.00 L350.95,322.74 L350.45,324.35 L349.85,325.86 L349.20,327.32 L348.57,328.75 L348.00,330.20 L347.47,331.61 L346.93,332.95 L346.41,334.26 L345.91,335.61 L345.47,337.04 L345.10,338.60 L344.82,340.31 L344.62,342.12 L344.46,344.02 L344.34,345.98 L344.23,347.98 L344.10,350.00 L343.96,352.21 M343.24,352.21 L343.10,350.00 L342.97,347.98 L342.86,345.98 L342.74,344.02 L342.58,342.12 L342.38,340.31 L342.10,338.60 L341.73,337.04 L341.29,335.61 L340.79,334.26 L340.27,332.95 L339.73,331.61 L339.20,330.20 L338.63,328.75 L338.00,327.32 L337.35,325.86 L336.75,324.35 L336.25,322.74 L335.90,321.00 L335.73,319.05 L335.71,316.90 L335.78,314.65 L335.91,312.41 L336.07,310.30 L336.20,308.40 L336.33,306.74 L336.49,305.23 L336.68,303.84 L336.86,302.53 L337.04,301.26 L337.20,300.00 L337.33,298.78 L337.44,297.63 L337.54,296.52 L337.65,295.44 L337.76,294.34 L337.90,293.20 L338.06,292.02 L338.23,290.83 L338.41,289.63 L338.60,288.41 L338.80,287.20 L339.00,286.00 L339.20,284.88 L339.40,283.87 L339.61,282.85 L339.83,281.73 L340.06,280.42 L340.30,278.80 L340.57,276.73 L340.87,274.27 L341.18,271.60 L341.49,268.93 L341.76,266.47 L342.00,264.40 L342.18,262.83 L342.33,261.61 L342.44,260.60 L342.55,259.63 L342.66,258.55 L342.80,257.20 L342.97,255.44 L343.16,253.35" fill="none" stroke="#4a5a6a" stroke-width="0.95" stroke-linejoin="round" stroke-linecap="butt"/>
<line x1="343.60" y1="262.83" x2="343.60" y2="338.60" stroke="#4a5a6a" stroke-width="0.55"/>
<rect x="338.30" y="292.40" width="10.70" height="27.70" fill="#c0dcf2" stroke="#4a5a6a" stroke-width="0.9"/>
<line x1="338.30" y1="309.60" x2="349.00" y2="309.60" stroke="#4a5a6a" stroke-width="0.9"/>
<path d="M315.0,240.7 V236.5 H343.6 V240.7" fill="none" stroke="#554a4a" stroke-width="1.0"/>
<polygon points="326.85,227.95 327.48,229.23 328.89,229.44 327.87,230.43 328.11,231.84 326.85,231.17 325.59,231.84 325.83,230.43 324.81,229.44 326.22,229.23" fill="#222"/>
<polygon points="331.75,227.95 332.38,229.23 333.79,229.44 332.77,230.43 333.01,231.84 331.75,231.17 330.49,231.84 330.73,230.43 329.71,229.44 331.12,229.23" fill="#222"/>
<text transform="translate(316.90,378.60) rotate(-30)" text-anchor="end" font-size="7.3" fill="#222222" textLength="50.82" lengthAdjust="spacingAndGlyphs">De novo genes</text>
<text transform="translate(347.40,378.60) rotate(-30)" text-anchor="end" font-size="7.3" fill="#222222" textLength="76.57" lengthAdjust="spacingAndGlyphs">Macaque&#160; orthologues</text>
<text x="369.5" y="230.2" font-size="12" font-weight="bold" fill="#000" style="stroke:#000;stroke-width:0.55px">g</text>
<line x1="412.6" y1="245" x2="412.6" y2="368.9" stroke="#8e8e8e" stroke-width="0.95"/>
<line x1="412.15000000000003" y1="368.4" x2="482.9" y2="368.4" stroke="#a8a8a8" stroke-width="1.0"/>
<line x1="409.3" y1="362.5" x2="412.6" y2="362.5" stroke="#8e8e8e" stroke-width="0.95"/>
<text x="405.10" y="365.30" text-anchor="end" font-size="7.8" fill="#222222" textLength="4.87" lengthAdjust="spacingAndGlyphs">0</text>
<line x1="409.3" y1="339.1" x2="412.6" y2="339.1" stroke="#8e8e8e" stroke-width="0.95"/>
<text x="405.10" y="341.90" text-anchor="end" font-size="7.8" fill="#222222" textLength="16.34" lengthAdjust="spacingAndGlyphs">2.50</text>
<line x1="409.3" y1="315.7" x2="412.6" y2="315.7" stroke="#8e8e8e" stroke-width="0.95"/>
<text x="405.10" y="318.50" text-anchor="end" font-size="7.8" fill="#222222" textLength="16.34" lengthAdjust="spacingAndGlyphs">5.00</text>
<line x1="409.3" y1="292.3" x2="412.6" y2="292.3" stroke="#8e8e8e" stroke-width="0.95"/>
<text x="405.10" y="295.10" text-anchor="end" font-size="7.8" fill="#222222" textLength="16.34" lengthAdjust="spacingAndGlyphs">7.50</text>
<line x1="409.3" y1="268.9" x2="412.6" y2="268.9" stroke="#8e8e8e" stroke-width="0.95"/>
<text x="405.10" y="271.70" text-anchor="end" font-size="7.8" fill="#222222" textLength="19.71" lengthAdjust="spacingAndGlyphs">10.00</text>
<line x1="409.3" y1="245.5" x2="412.6" y2="245.5" stroke="#8e8e8e" stroke-width="0.95"/>
<text x="405.10" y="248.30" text-anchor="end" font-size="7.8" fill="#222222" textLength="19.71" lengthAdjust="spacingAndGlyphs">12.50</text>
<line x1="431.8" y1="368.4" x2="431.8" y2="371.7" stroke="#8e8e8e" stroke-width="0.95"/>
<line x1="463.4" y1="368.4" x2="463.4" y2="371.7" stroke="#8e8e8e" stroke-width="0.95"/>
<text transform="translate(377.7,306.7) rotate(-90)" text-anchor="middle" font-size="8.8" fill="#222222">ISOR</text>
<line x1="432.00" y1="261.00" x2="432.00" y2="285.89" stroke="#4c5c6e" stroke-width="1.2"/>
<path d="M432.32,283.89 L432.41,285.38 L432.50,286.78 L432.58,288.26 L432.65,290.00 L432.70,292.09 L432.72,294.41 L432.74,296.81 L432.77,299.15 L432.82,301.26 L432.90,303.00 L433.02,304.30 L433.18,305.26 L433.36,306.00 L433.55,306.63 L433.73,307.26 L433.90,308.00 L434.06,308.82 L434.23,309.63 L434.40,310.44 L434.56,311.26 L434.69,312.11 L434.80,313.00 L434.88,313.95 L434.94,314.96 L434.98,316.00 L435.00,317.04 L435.00,318.05 L435.00,319.00 L434.98,319.90 L434.94,320.78 L434.89,321.62 L434.83,322.44 L434.77,323.24 L434.70,324.00 L434.62,324.71 L434.52,325.37 L434.41,326.00 L434.31,326.63 L434.24,327.29 L434.20,328.00 L434.19,328.77 L434.19,329.56 L434.21,330.39 L434.27,331.24 L434.36,332.11 L434.50,333.00 L434.70,333.90 L434.94,334.82 L435.23,335.76 L435.54,336.73 L435.87,337.74 L436.20,338.80 L436.56,339.92 L436.95,341.10 L437.36,342.31 L437.77,343.55 L438.16,344.78 L438.50,346.00 L438.82,347.20 L439.13,348.40 L439.42,349.60 L439.67,350.80 L439.87,352.00 L440.00,353.20 L440.05,354.46 L440.04,355.79 L439.98,357.12 L439.88,358.38 L439.75,359.50 L439.60,360.40 L439.41,361.07 L439.16,361.56 L438.88,361.90 L438.60,362.14 L438.36,362.33 L438.20,362.50 L425.80,362.50 L425.64,362.33 L425.40,362.14 L425.12,361.90 L424.84,361.56 L424.59,361.07 L424.40,360.40 L424.25,359.50 L424.12,358.38 L424.02,357.12 L423.96,355.79 L423.95,354.46 L424.00,353.20 L424.13,352.00 L424.33,350.80 L424.58,349.60 L424.87,348.40 L425.18,347.20 L425.50,346.00 L425.84,344.78 L426.23,343.55 L426.64,342.31 L427.05,341.10 L427.44,339.92 L427.80,338.80 L428.13,337.74 L428.46,336.73 L428.77,335.76 L429.06,334.82 L429.30,333.90 L429.50,333.00 L429.64,332.11 L429.73,331.24 L429.79,330.39 L429.81,329.56 L429.81,328.77 L429.80,328.00 L429.76,327.29 L429.69,326.63 L429.59,326.00 L429.48,325.37 L429.38,324.71 L429.30,324.00 L429.23,323.24 L429.17,322.44 L429.11,321.62 L429.06,320.78 L429.02,319.90 L429.00,319.00 L429.00,318.05 L429.00,317.04 L429.02,316.00 L429.06,314.96 L429.12,313.95 L429.20,313.00 L429.31,312.11 L429.44,311.26 L429.60,310.44 L429.77,309.63 L429.94,308.82 L430.10,308.00 L430.27,307.26 L430.45,306.63 L430.64,306.00 L430.82,305.26 L430.98,304.30 L431.10,303.00 L431.18,301.26 L431.23,299.15 L431.26,296.81 L431.28,294.41 L431.30,292.09 L431.35,290.00 L431.42,288.26 L431.50,286.78 L431.59,285.38 L431.68,283.89Z" fill="#3f95d8" stroke="none"/>
<path d="M432.32,283.89 L432.41,285.38 L432.50,286.78 L432.58,288.26 L432.65,290.00 L432.70,292.09 L432.72,294.41 L432.74,296.81 L432.77,299.15 L432.82,301.26 L432.90,303.00 L433.02,304.30 L433.18,305.26 L433.36,306.00 L433.55,306.63 L433.73,307.26 L433.90,308.00 L434.06,308.82 L434.23,309.63 L434.40,310.44 L434.56,311.26 L434.69,312.11 L434.80,313.00 L434.88,313.95 L434.94,314.96 L434.98,316.00 L435.00,317.04 L435.00,318.05 L435.00,319.00 L434.98,319.90 L434.94,320.78 L434.89,321.62 L434.83,322.44 L434.77,323.24 L434.70,324.00 L434.62,324.71 L434.52,325.37 L434.41,326.00 L434.31,326.63 L434.24,327.29 L434.20,328.00 L434.19,328.77 L434.19,329.56 L434.21,330.39 L434.27,331.24 L434.36,332.11 L434.50,333.00 L434.70,333.90 L434.94,334.82 L435.23,335.76 L435.54,336.73 L435.87,337.74 L436.20,338.80 L436.56,339.92 L436.95,341.10 L437.36,342.31 L437.77,343.55 L438.16,344.78 L438.50,346.00 L438.82,347.20 L439.13,348.40 L439.42,349.60 L439.67,350.80 L439.87,352.00 L440.00,353.20 L440.05,354.46 L440.04,355.79 L439.98,357.12 L439.88,358.38 L439.75,359.50 L439.60,360.40 L439.41,361.07 L439.16,361.56 L438.88,361.90 L438.60,362.14 L438.36,362.33 L438.20,362.50 L425.80,362.50 L425.64,362.33 L425.40,362.14 L425.12,361.90 L424.84,361.56 L424.59,361.07 L424.40,360.40 L424.25,359.50 L424.12,358.38 L424.02,357.12 L423.96,355.79 L423.95,354.46 L424.00,353.20 L424.13,352.00 L424.33,350.80 L424.58,349.60 L424.87,348.40 L425.18,347.20 L425.50,346.00 L425.84,344.78 L426.23,343.55 L426.64,342.31 L427.05,341.10 L427.44,339.92 L427.80,338.80 L428.13,337.74 L428.46,336.73 L428.77,335.76 L429.06,334.82 L429.30,333.90 L429.50,333.00 L429.64,332.11 L429.73,331.24 L429.79,330.39 L429.81,329.56 L429.81,328.77 L429.80,328.00 L429.76,327.29 L429.69,326.63 L429.59,326.00 L429.48,325.37 L429.38,324.71 L429.30,324.00 L429.23,323.24 L429.17,322.44 L429.11,321.62 L429.06,320.78 L429.02,319.90 L429.00,319.00 L429.00,318.05 L429.00,317.04 L429.02,316.00 L429.06,314.96 L429.12,313.95 L429.20,313.00 L429.31,312.11 L429.44,311.26 L429.60,310.44 L429.77,309.63 L429.94,308.82 L430.10,308.00 L430.27,307.26 L430.45,306.63 L430.64,306.00 L430.82,305.26 L430.98,304.30 L431.10,303.00 L431.18,301.26 L431.23,299.15 L431.26,296.81 L431.28,294.41 L431.30,292.09 L431.35,290.00 L431.42,288.26 L431.50,286.78 L431.59,285.38 L431.68,283.89" fill="none" stroke="#34465a" stroke-width="0.95" stroke-linejoin="round" stroke-linecap="butt"/>
<line x1="432.00" y1="306.00" x2="432.00" y2="362.50" stroke="#34465a" stroke-width="0.55"/>
<rect x="429.00" y="338.50" width="6.00" height="21.90" fill="#3f95d8" stroke="#34465a" stroke-width="0.9"/>
<line x1="429.00" y1="352.90" x2="435.00" y2="352.90" stroke="#34465a" stroke-width="0.9"/>
<line x1="463.50" y1="298.40" x2="463.50" y2="304.04" stroke="#606e7c" stroke-width="1.2"/>
<path d="M463.84,302.04 L463.99,303.09 L464.10,304.00 L464.17,304.76 L464.21,305.45 L464.24,306.10 L464.26,306.73 L464.27,307.35 L464.30,308.00 L464.33,308.67 L464.36,309.33 L464.39,310.00 L464.42,310.67 L464.46,311.33 L464.50,312.00 L464.56,312.67 L464.65,313.33 L464.74,314.00 L464.82,314.67 L464.88,315.33 L464.90,316.00 L464.88,316.67 L464.82,317.35 L464.74,318.03 L464.66,318.70 L464.57,319.36 L464.50,320.00 L464.42,320.61 L464.32,321.20 L464.23,321.77 L464.16,322.36 L464.14,322.96 L464.20,323.60 L464.35,324.28 L464.59,324.99 L464.87,325.71 L465.18,326.46 L465.50,327.22 L465.80,328.00 L466.12,328.79 L466.49,329.60 L466.86,330.43 L467.19,331.27 L467.45,332.12 L467.60,333.00 L467.58,333.92 L467.41,334.90 L467.18,335.90 L466.93,336.87 L466.75,337.79 L466.70,338.60 L466.79,339.29 L466.96,339.87 L467.19,340.40 L467.47,340.90 L467.78,341.42 L468.10,342.00 L468.44,342.63 L468.83,343.29 L469.24,343.96 L469.66,344.64 L470.09,345.33 L470.50,346.00 L470.90,346.67 L471.30,347.35 L471.70,348.03 L472.10,348.70 L472.50,349.36 L472.90,350.00 L473.31,350.61 L473.72,351.20 L474.14,351.78 L474.54,352.35 L474.93,352.92 L475.30,353.50 L475.65,354.09 L475.98,354.70 L476.29,355.31 L476.59,355.91 L476.86,356.47 L477.10,357.00 L477.32,357.48 L477.51,357.93 L477.69,358.34 L477.83,358.74 L477.94,359.12 L478.00,359.50 L478.03,359.87 L478.02,360.24 L477.98,360.59 L477.89,360.93 L477.77,361.23 L477.60,361.50 L477.35,361.74 L477.01,361.94 L476.62,362.12 L476.25,362.28 L475.92,362.40 L475.70,362.50 L451.30,362.50 L451.08,362.40 L450.75,362.28 L450.38,362.12 L449.99,361.94 L449.65,361.74 L449.40,361.50 L449.23,361.23 L449.11,360.93 L449.02,360.59 L448.98,360.24 L448.97,359.87 L449.00,359.50 L449.06,359.12 L449.17,358.74 L449.31,358.34 L449.49,357.93 L449.68,357.48 L449.90,357.00 L450.14,356.47 L450.41,355.91 L450.71,355.31 L451.02,354.70 L451.35,354.09 L451.70,353.50 L452.07,352.92 L452.46,352.35 L452.86,351.78 L453.28,351.20 L453.69,350.61 L454.10,350.00 L454.50,349.36 L454.90,348.70 L455.30,348.03 L455.70,347.35 L456.10,346.67 L456.50,346.00 L456.91,345.33 L457.34,344.64 L457.76,343.96 L458.17,343.29 L458.56,342.63 L458.90,342.00 L459.22,341.42 L459.53,340.90 L459.81,340.40 L460.04,339.87 L460.21,339.29 L460.30,338.60 L460.25,337.79 L460.07,336.87 L459.82,335.90 L459.59,334.90 L459.42,333.92 L459.40,333.00 L459.55,332.12 L459.81,331.27 L460.14,330.43 L460.51,329.60 L460.88,328.79 L461.20,328.00 L461.50,327.22 L461.82,326.46 L462.13,325.71 L462.41,324.99 L462.65,324.28 L462.80,323.60 L462.86,322.96 L462.84,322.36 L462.77,321.77 L462.68,321.20 L462.58,320.61 L462.50,320.00 L462.43,319.36 L462.34,318.70 L462.26,318.03 L462.18,317.35 L462.12,316.67 L462.10,316.00 L462.12,315.33 L462.18,314.67 L462.26,314.00 L462.35,313.33 L462.44,312.67 L462.50,312.00 L462.54,311.33 L462.58,310.67 L462.61,310.00 L462.64,309.33 L462.67,308.67 L462.70,308.00 L462.73,307.35 L462.74,306.73 L462.76,306.10 L462.79,305.45 L462.83,304.76 L462.90,304.00 L463.01,303.09 L463.16,302.04Z" fill="#c0dcf2" stroke="none"/>
<path d="M463.84,302.04 L463.99,303.09 L464.10,304.00 L464.17,304.76 L464.21,305.45 L464.24,306.10 L464.26,306.73 L464.27,307.35 L464.30,308.00 L464.33,308.67 L464.36,309.33 L464.39,310.00 L464.42,310.67 L464.46,311.33 L464.50,312.00 L464.56,312.67 L464.65,313.33 L464.74,314.00 L464.82,314.67 L464.88,315.33 L464.90,316.00 L464.88,316.67 L464.82,317.35 L464.74,318.03 L464.66,318.70 L464.57,319.36 L464.50,320.00 L464.42,320.61 L464.32,321.20 L464.23,321.77 L464.16,322.36 L464.14,322.96 L464.20,323.60 L464.35,324.28 L464.59,324.99 L464.87,325.71 L465.18,326.46 L465.50,327.22 L465.80,328.00 L466.12,328.79 L466.49,329.60 L466.86,330.43 L467.19,331.27 L467.45,332.12 L467.60,333.00 L467.58,333.92 L467.41,334.90 L467.18,335.90 L466.93,336.87 L466.75,337.79 L466.70,338.60 L466.79,339.29 L466.96,339.87 L467.19,340.40 L467.47,340.90 L467.78,341.42 L468.10,342.00 L468.44,342.63 L468.83,343.29 L469.24,343.96 L469.66,344.64 L470.09,345.33 L470.50,346.00 L470.90,346.67 L471.30,347.35 L471.70,348.03 L472.10,348.70 L472.50,349.36 L472.90,350.00 L473.31,350.61 L473.72,351.20 L474.14,351.78 L474.54,352.35 L474.93,352.92 L475.30,353.50 L475.65,354.09 L475.98,354.70 L476.29,355.31 L476.59,355.91 L476.86,356.47 L477.10,357.00 L477.32,357.48 L477.51,357.93 L477.69,358.34 L477.83,358.74 L477.94,359.12 L478.00,359.50 L478.03,359.87 L478.02,360.24 L477.98,360.59 L477.89,360.93 L477.77,361.23 L477.60,361.50 L477.35,361.74 L477.01,361.94 L476.62,362.12 L476.25,362.28 L475.92,362.40 L475.70,362.50 L451.30,362.50 L451.08,362.40 L450.75,362.28 L450.38,362.12 L449.99,361.94 L449.65,361.74 L449.40,361.50 L449.23,361.23 L449.11,360.93 L449.02,360.59 L448.98,360.24 L448.97,359.87 L449.00,359.50 L449.06,359.12 L449.17,358.74 L449.31,358.34 L449.49,357.93 L449.68,357.48 L449.90,357.00 L450.14,356.47 L450.41,355.91 L450.71,355.31 L451.02,354.70 L451.35,354.09 L451.70,353.50 L452.07,352.92 L452.46,352.35 L452.86,351.78 L453.28,351.20 L453.69,350.61 L454.10,350.00 L454.50,349.36 L454.90,348.70 L455.30,348.03 L455.70,347.35 L456.10,346.67 L456.50,346.00 L456.91,345.33 L457.34,344.64 L457.76,343.96 L458.17,343.29 L458.56,342.63 L458.90,342.00 L459.22,341.42 L459.53,340.90 L459.81,340.40 L460.04,339.87 L460.21,339.29 L460.30,338.60 L460.25,337.79 L460.07,336.87 L459.82,335.90 L459.59,334.90 L459.42,333.92 L459.40,333.00 L459.55,332.12 L459.81,331.27 L460.14,330.43 L460.51,329.60 L460.88,328.79 L461.20,328.00 L461.50,327.22 L461.82,326.46 L462.13,325.71 L462.41,324.99 L462.65,324.28 L462.80,323.60 L462.86,322.96 L462.84,322.36 L462.77,321.77 L462.68,321.20 L462.58,320.61 L462.50,320.00 L462.43,319.36 L462.34,318.70 L462.26,318.03 L462.18,317.35 L462.12,316.67 L462.10,316.00 L462.12,315.33 L462.18,314.67 L462.26,314.00 L462.35,313.33 L462.44,312.67 L462.50,312.00 L462.54,311.33 L462.58,310.67 L462.61,310.00 L462.64,309.33 L462.67,308.67 L462.70,308.00 L462.73,307.35 L462.74,306.73 L462.76,306.10 L462.79,305.45 L462.83,304.76 L462.90,304.00 L463.01,303.09 L463.16,302.04" fill="none" stroke="#4a5a6a" stroke-width="0.95" stroke-linejoin="round" stroke-linecap="butt"/>
<line x1="463.50" y1="314.67" x2="463.50" y2="362.50" stroke="#4a5a6a" stroke-width="0.55"/>
<rect x="460.60" y="349.10" width="5.90" height="13.00" fill="#c0dcf2" stroke="#4a5a6a" stroke-width="0.9"/>
<line x1="460.60" y1="358.20" x2="466.50" y2="358.20" stroke="#4a5a6a" stroke-width="0.9"/>
<path d="M432.0,241.1 V236.9 H463.5 V241.1" fill="none" stroke="#554a4a" stroke-width="1.0"/>
<polygon points="445.30,228.35 445.93,229.63 447.34,229.84 446.32,230.83 446.56,232.24 445.30,231.57 444.04,232.24 444.28,230.83 443.26,229.84 444.67,229.63" fill="#222"/>
<polygon points="450.20,228.35 450.83,229.63 452.24,229.84 451.22,230.83 451.46,232.24 450.20,231.57 448.94,232.24 449.18,230.83 448.16,229.84 449.57,229.63" fill="#222"/>
<text transform="translate(435.70,378.50) rotate(-30)" text-anchor="end" font-size="7.3" fill="#222222" textLength="50.82" lengthAdjust="spacingAndGlyphs">De novo genes</text>
<text transform="translate(467.30,378.50) rotate(-30)" text-anchor="end" font-size="7.3" fill="#222222" textLength="76.57" lengthAdjust="spacingAndGlyphs">Macaque&#160; orthologues</text>
<text x="496.3" y="230.1" font-size="12" font-weight="bold" fill="#000" style="stroke:#000;stroke-width:0.55px">h</text>
<line x1="539.8" y1="245" x2="539.8" y2="368.5" stroke="#8e8e8e" stroke-width="0.95"/>
<line x1="539.3499999999999" y1="368" x2="609.6" y2="368" stroke="#a8a8a8" stroke-width="1.0"/>
<line x1="536.5" y1="360.8" x2="539.8" y2="360.8" stroke="#8e8e8e" stroke-width="0.95"/>
<text x="532.30" y="363.60" text-anchor="end" font-size="7.8" fill="#222222" textLength="20.54" lengthAdjust="spacingAndGlyphs">−4.00</text>
<line x1="536.5" y1="336.5" x2="539.8" y2="336.5" stroke="#8e8e8e" stroke-width="0.95"/>
<text x="532.30" y="339.30" text-anchor="end" font-size="7.8" fill="#222222" textLength="20.54" lengthAdjust="spacingAndGlyphs">−2.00</text>
<line x1="536.5" y1="312.2" x2="539.8" y2="312.2" stroke="#8e8e8e" stroke-width="0.95"/>
<text x="532.30" y="315.00" text-anchor="end" font-size="7.8" fill="#222222" textLength="4.87" lengthAdjust="spacingAndGlyphs">0</text>
<line x1="536.5" y1="287.9" x2="539.8" y2="287.9" stroke="#8e8e8e" stroke-width="0.95"/>
<text x="532.30" y="290.70" text-anchor="end" font-size="7.8" fill="#222222" textLength="16.34" lengthAdjust="spacingAndGlyphs">2.00</text>
<line x1="536.5" y1="263.6" x2="539.8" y2="263.6" stroke="#8e8e8e" stroke-width="0.95"/>
<text x="532.30" y="266.40" text-anchor="end" font-size="7.8" fill="#222222" textLength="16.34" lengthAdjust="spacingAndGlyphs">4.00</text>
<line x1="560.5" y1="368" x2="560.5" y2="371.3" stroke="#8e8e8e" stroke-width="0.95"/>
<line x1="592.6" y1="368" x2="592.6" y2="371.3" stroke="#8e8e8e" stroke-width="0.95"/>
<text transform="translate(503.2,307.0) rotate(-90)" text-anchor="middle" font-size="8.8" fill="#222222">Delta N/C ratios</text>
<line x1="560.50" y1="273.00" x2="560.50" y2="280.29" stroke="#5b5b5b" stroke-width="1.2"/>
<line x1="560.50" y1="336.26" x2="560.50" y2="342.80" stroke="#5b5b5b" stroke-width="1.2"/>
<path d="M560.85,278.29 L561.00,278.92 L561.20,279.60 L561.46,280.33 L561.76,281.11 L562.11,281.93 L562.47,282.76 L562.84,283.59 L563.20,284.40 L563.55,285.20 L563.91,286.00 L564.27,286.80 L564.64,287.60 L565.02,288.40 L565.40,289.20 L565.79,290.00 L566.19,290.80 L566.59,291.60 L567.00,292.40 L567.40,293.20 L567.80,294.00 L568.20,294.80 L568.62,295.60 L569.03,296.40 L569.43,297.20 L569.79,298.00 L570.10,298.80 L570.36,299.61 L570.58,300.44 L570.76,301.28 L570.92,302.09 L571.07,302.87 L571.20,303.60 L571.33,304.28 L571.46,304.92 L571.58,305.53 L571.66,306.10 L571.70,306.66 L571.70,307.20 L571.65,307.66 L571.56,308.03 L571.44,308.37 L571.27,308.77 L571.06,309.29 L570.80,310.00 L570.48,310.95 L570.10,312.07 L569.67,313.33 L569.22,314.64 L568.76,315.95 L568.30,317.20 L567.84,318.40 L567.36,319.60 L566.86,320.80 L566.37,322.00 L565.88,323.20 L565.40,324.40 L564.92,325.63 L564.43,326.91 L563.95,328.18 L563.49,329.41 L563.07,330.57 L562.70,331.60 L562.40,332.45 L562.16,333.15 L561.95,333.77 L561.77,334.38 L561.59,335.07 L561.40,335.90 L561.19,336.98 L560.97,338.26 L560.03,338.26 L559.81,336.98 L559.60,335.90 L559.41,335.07 L559.23,334.38 L559.05,333.77 L558.84,333.15 L558.60,332.45 L558.30,331.60 L557.93,330.57 L557.51,329.41 L557.05,328.18 L556.57,326.91 L556.08,325.63 L555.60,324.40 L555.12,323.20 L554.63,322.00 L554.14,320.80 L553.64,319.60 L553.16,318.40 L552.70,317.20 L552.24,315.95 L551.78,314.64 L551.33,313.33 L550.90,312.07 L550.52,310.95 L550.20,310.00 L549.94,309.29 L549.73,308.77 L549.56,308.37 L549.44,308.03 L549.35,307.66 L549.30,307.20 L549.30,306.66 L549.34,306.10 L549.42,305.53 L549.54,304.92 L549.67,304.28 L549.80,303.60 L549.93,302.87 L550.08,302.09 L550.24,301.28 L550.42,300.44 L550.64,299.61 L550.90,298.80 L551.21,298.00 L551.57,297.20 L551.97,296.40 L552.38,295.60 L552.80,294.80 L553.20,294.00 L553.60,293.20 L554.00,292.40 L554.41,291.60 L554.81,290.80 L555.21,290.00 L555.60,289.20 L555.98,288.40 L556.36,287.60 L556.73,286.80 L557.09,286.00 L557.45,285.20 L557.80,284.40 L558.16,283.59 L558.53,282.76 L558.89,281.93 L559.24,281.11 L559.54,280.33 L559.80,279.60 L560.00,278.92 L560.15,278.29Z" fill="#9a9a9a" stroke="none"/>
<path d="M560.85,278.29 L561.00,278.92 L561.20,279.60 L561.46,280.33 L561.76,281.11 L562.11,281.93 L562.47,282.76 L562.84,283.59 L563.20,284.40 L563.55,285.20 L563.91,286.00 L564.27,286.80 L564.64,287.60 L565.02,288.40 L565.40,289.20 L565.79,290.00 L566.19,290.80 L566.59,291.60 L567.00,292.40 L567.40,293.20 L567.80,294.00 L568.20,294.80 L568.62,295.60 L569.03,296.40 L569.43,297.20 L569.79,298.00 L570.10,298.80 L570.36,299.61 L570.58,300.44 L570.76,301.28 L570.92,302.09 L571.07,302.87 L571.20,303.60 L571.33,304.28 L571.46,304.92 L571.58,305.53 L571.66,306.10 L571.70,306.66 L571.70,307.20 L571.65,307.66 L571.56,308.03 L571.44,308.37 L571.27,308.77 L571.06,309.29 L570.80,310.00 L570.48,310.95 L570.10,312.07 L569.67,313.33 L569.22,314.64 L568.76,315.95 L568.30,317.20 L567.84,318.40 L567.36,319.60 L566.86,320.80 L566.37,322.00 L565.88,323.20 L565.40,324.40 L564.92,325.63 L564.43,326.91 L563.95,328.18 L563.49,329.41 L563.07,330.57 L562.70,331.60 L562.40,332.45 L562.16,333.15 L561.95,333.77 L561.77,334.38 L561.59,335.07 L561.40,335.90 L561.19,336.98 L560.97,338.26 M560.03,338.26 L559.81,336.98 L559.60,335.90 L559.41,335.07 L559.23,334.38 L559.05,333.77 L558.84,333.15 L558.60,332.45 L558.30,331.60 L557.93,330.57 L557.51,329.41 L557.05,328.18 L556.57,326.91 L556.08,325.63 L555.60,324.40 L555.12,323.20 L554.63,322.00 L554.14,320.80 L553.64,319.60 L553.16,318.40 L552.70,317.20 L552.24,315.95 L551.78,314.64 L551.33,313.33 L550.90,312.07 L550.52,310.95 L550.20,310.00 L549.94,309.29 L549.73,308.77 L549.56,308.37 L549.44,308.03 L549.35,307.66 L549.30,307.20 L549.30,306.66 L549.34,306.10 L549.42,305.53 L549.54,304.92 L549.67,304.28 L549.80,303.60 L549.93,302.87 L550.08,302.09 L550.24,301.28 L550.42,300.44 L550.64,299.61 L550.90,298.80 L551.21,298.00 L551.57,297.20 L551.97,296.40 L552.38,295.60 L552.80,294.80 L553.20,294.00 L553.60,293.20 L554.00,292.40 L554.41,291.60 L554.81,290.80 L555.21,290.00 L555.60,289.20 L555.98,288.40 L556.36,287.60 L556.73,286.80 L557.09,286.00 L557.45,285.20 L557.80,284.40 L558.16,283.59 L558.53,282.76 L558.89,281.93 L559.24,281.11 L559.54,280.33 L559.80,279.60 L560.00,278.92 L560.15,278.29" fill="none" stroke="#454545" stroke-width="0.95" stroke-linejoin="round" stroke-linecap="butt"/>
<line x1="560.50" y1="287.30" x2="560.50" y2="333.00" stroke="#454545" stroke-width="0.55"/>
<rect x="555.30" y="300.30" width="10.30" height="13.70" fill="#9a9a9a" stroke="#454545" stroke-width="0.9"/>
<line x1="555.30" y1="308.50" x2="565.60" y2="308.50" stroke="#454545" stroke-width="0.9"/>
<line x1="592.30" y1="243.00" x2="592.30" y2="279.48" stroke="#5b5b5b" stroke-width="1.2"/>
<line x1="592.30" y1="338.15" x2="592.30" y2="361.80" stroke="#5b5b5b" stroke-width="1.2"/>
<path d="M592.63,277.48 L592.74,278.00 L592.85,278.47 L592.97,278.98 L593.10,279.60 L593.23,280.33 L593.37,281.11 L593.52,281.93 L593.67,282.76 L593.83,283.59 L594.00,284.40 L594.18,285.20 L594.36,286.00 L594.55,286.80 L594.75,287.60 L594.97,288.40 L595.20,289.20 L595.45,290.00 L595.72,290.80 L596.00,291.60 L596.29,292.40 L596.59,293.20 L596.90,294.00 L597.21,294.80 L597.54,295.60 L597.88,296.40 L598.21,297.20 L598.56,298.00 L598.90,298.80 L599.24,299.60 L599.59,300.40 L599.94,301.20 L600.29,302.00 L600.64,302.80 L601.00,303.60 L601.36,304.41 L601.73,305.24 L602.10,306.07 L602.47,306.89 L602.84,307.67 L603.20,308.40 L603.56,309.07 L603.93,309.69 L604.30,310.28 L604.66,310.85 L604.99,311.42 L605.30,312.00 L605.59,312.61 L605.89,313.23 L606.16,313.85 L606.39,314.45 L606.58,315.00 L606.70,315.50 L606.75,315.92 L606.73,316.28 L606.67,316.60 L606.57,316.90 L606.44,317.19 L606.30,317.50 L606.17,317.79 L606.05,318.03 L605.90,318.28 L605.70,318.56 L605.41,318.92 L605.00,319.40 L604.44,320.03 L603.74,320.79 L602.96,321.62 L602.14,322.49 L601.33,323.37 L600.60,324.20 L599.92,325.00 L599.26,325.80 L598.61,326.60 L597.98,327.40 L597.37,328.20 L596.80,329.00 L596.24,329.82 L595.69,330.66 L595.17,331.50 L594.69,332.32 L594.26,333.09 L593.90,333.80 L593.63,334.37 L593.44,334.81 L593.31,335.20 L593.20,335.64 L593.11,336.21 L593.00,337.00 L592.88,337.95 L592.77,338.99 L592.66,340.15 L591.94,340.15 L591.83,338.99 L591.72,337.95 L591.60,337.00 L591.49,336.21 L591.40,335.64 L591.29,335.20 L591.16,334.81 L590.97,334.37 L590.70,333.80 L590.34,333.09 L589.91,332.32 L589.43,331.50 L588.91,330.66 L588.36,329.82 L587.80,329.00 L587.23,328.20 L586.62,327.40 L585.99,326.60 L585.34,325.80 L584.68,325.00 L584.00,324.20 L583.27,323.37 L582.46,322.49 L581.64,321.62 L580.86,320.79 L580.16,320.03 L579.60,319.40 L579.19,318.92 L578.90,318.56 L578.70,318.28 L578.55,318.03 L578.43,317.79 L578.30,317.50 L578.16,317.19 L578.03,316.90 L577.93,316.60 L577.87,316.28 L577.85,315.92 L577.90,315.50 L578.02,315.00 L578.21,314.45 L578.44,313.85 L578.71,313.23 L579.01,312.61 L579.30,312.00 L579.61,311.42 L579.94,310.85 L580.30,310.28 L580.67,309.69 L581.04,309.07 L581.40,308.40 L581.76,307.67 L582.13,306.89 L582.50,306.07 L582.87,305.24 L583.24,304.41 L583.60,303.60 L583.96,302.80 L584.31,302.00 L584.66,301.20 L585.01,300.40 L585.36,299.60 L585.70,298.80 L586.04,298.00 L586.39,297.20 L586.72,296.40 L587.06,295.60 L587.39,294.80 L587.70,294.00 L588.01,293.20 L588.31,292.40 L588.60,291.60 L588.88,290.80 L589.15,290.00 L589.40,289.20 L589.63,288.40 L589.85,287.60 L590.05,286.80 L590.24,286.00 L590.42,285.20 L590.60,284.40 L590.77,283.59 L590.93,282.76 L591.08,281.93 L591.23,281.11 L591.37,280.33 L591.50,279.60 L591.63,278.98 L591.75,278.47 L591.86,278.00 L591.97,277.48Z" fill="#ececec" stroke="none"/>
<path d="M592.63,277.48 L592.74,278.00 L592.85,278.47 L592.97,278.98 L593.10,279.60 L593.23,280.33 L593.37,281.11 L593.52,281.93 L593.67,282.76 L593.83,283.59 L594.00,284.40 L594.18,285.20 L594.36,286.00 L594.55,286.80 L594.75,287.60 L594.97,288.40 L595.20,289.20 L595.45,290.00 L595.72,290.80 L596.00,291.60 L596.29,292.40 L596.59,293.20 L596.90,294.00 L597.21,294.80 L597.54,295.60 L597.88,296.40 L598.21,297.20 L598.56,298.00 L598.90,298.80 L599.24,299.60 L599.59,300.40 L599.94,301.20 L600.29,302.00 L600.64,302.80 L601.00,303.60 L601.36,304.41 L601.73,305.24 L602.10,306.07 L602.47,306.89 L602.84,307.67 L603.20,308.40 L603.56,309.07 L603.93,309.69 L604.30,310.28 L604.66,310.85 L604.99,311.42 L605.30,312.00 L605.59,312.61 L605.89,313.23 L606.16,313.85 L606.39,314.45 L606.58,315.00 L606.70,315.50 L606.75,315.92 L606.73,316.28 L606.67,316.60 L606.57,316.90 L606.44,317.19 L606.30,317.50 L606.17,317.79 L606.05,318.03 L605.90,318.28 L605.70,318.56 L605.41,318.92 L605.00,319.40 L604.44,320.03 L603.74,320.79 L602.96,321.62 L602.14,322.49 L601.33,323.37 L600.60,324.20 L599.92,325.00 L599.26,325.80 L598.61,326.60 L597.98,327.40 L597.37,328.20 L596.80,329.00 L596.24,329.82 L595.69,330.66 L595.17,331.50 L594.69,332.32 L594.26,333.09 L593.90,333.80 L593.63,334.37 L593.44,334.81 L593.31,335.20 L593.20,335.64 L593.11,336.21 L593.00,337.00 L592.88,337.95 L592.77,338.99 L592.66,340.15 M591.94,340.15 L591.83,338.99 L591.72,337.95 L591.60,337.00 L591.49,336.21 L591.40,335.64 L591.29,335.20 L591.16,334.81 L590.97,334.37 L590.70,333.80 L590.34,333.09 L589.91,332.32 L589.43,331.50 L588.91,330.66 L588.36,329.82 L587.80,329.00 L587.23,328.20 L586.62,327.40 L585.99,326.60 L585.34,325.80 L584.68,325.00 L584.00,324.20 L583.27,323.37 L582.46,322.49 L581.64,321.62 L580.86,320.79 L580.16,320.03 L579.60,319.40 L579.19,318.92 L578.90,318.56 L578.70,318.28 L578.55,318.03 L578.43,317.79 L578.30,317.50 L578.16,317.19 L578.03,316.90 L577.93,316.60 L577.87,316.28 L577.85,315.92 L577.90,315.50 L578.02,315.00 L578.21,314.45 L578.44,313.85 L578.71,313.23 L579.01,312.61 L579.30,312.00 L579.61,311.42 L579.94,310.85 L580.30,310.28 L580.67,309.69 L581.04,309.07 L581.40,308.40 L581.76,307.67 L582.13,306.89 L582.50,306.07 L582.87,305.24 L583.24,304.41 L583.60,303.60 L583.96,302.80 L584.31,302.00 L584.66,301.20 L585.01,300.40 L585.36,299.60 L585.70,298.80 L586.04,298.00 L586.39,297.20 L586.72,296.40 L587.06,295.60 L587.39,294.80 L587.70,294.00 L588.01,293.20 L588.31,292.40 L588.60,291.60 L588.88,290.80 L589.15,290.00 L589.40,289.20 L589.63,288.40 L589.85,287.60 L590.05,286.80 L590.24,286.00 L590.42,285.20 L590.60,284.40 L590.77,283.59 L590.93,282.76 L591.08,281.93 L591.23,281.11 L591.37,280.33 L591.50,279.60 L591.63,278.98 L591.75,278.47 L591.86,278.00 L591.97,277.48" fill="none" stroke="#454545" stroke-width="0.95" stroke-linejoin="round" stroke-linecap="butt"/>
<line x1="592.30" y1="282.76" x2="592.30" y2="334.37" stroke="#454545" stroke-width="0.55"/>
<rect x="587.50" y="306.50" width="9.40" height="13.90" fill="#ececec" stroke="#454545" stroke-width="0.9"/>
<line x1="587.50" y1="314.20" x2="596.90" y2="314.20" stroke="#454545" stroke-width="0.9"/>
<path d="M560.5,240.7 V236.5 H592.3 V240.7" fill="none" stroke="#554a4a" stroke-width="1.0"/>
<polygon points="573.95,227.95 574.58,229.23 575.99,229.44 574.97,230.43 575.21,231.84 573.95,231.17 572.69,231.84 572.93,230.43 571.91,229.44 573.32,229.23" fill="#222"/>
<polygon points="578.85,227.95 579.48,229.23 580.89,229.44 579.87,230.43 580.11,231.84 578.85,231.17 577.59,231.84 577.83,230.43 576.81,229.44 578.22,229.23" fill="#222"/>
<text transform="translate(564.40,378.10) rotate(-30)" text-anchor="end" font-size="7.3" fill="#222222" textLength="50.82" lengthAdjust="spacingAndGlyphs">De novo genes</text>
<text transform="translate(596.50,378.10) rotate(-30)" text-anchor="end" font-size="7.3" fill="#222222" textLength="59.79" lengthAdjust="spacingAndGlyphs">Conserved genes</text>
</svg></body></html>
